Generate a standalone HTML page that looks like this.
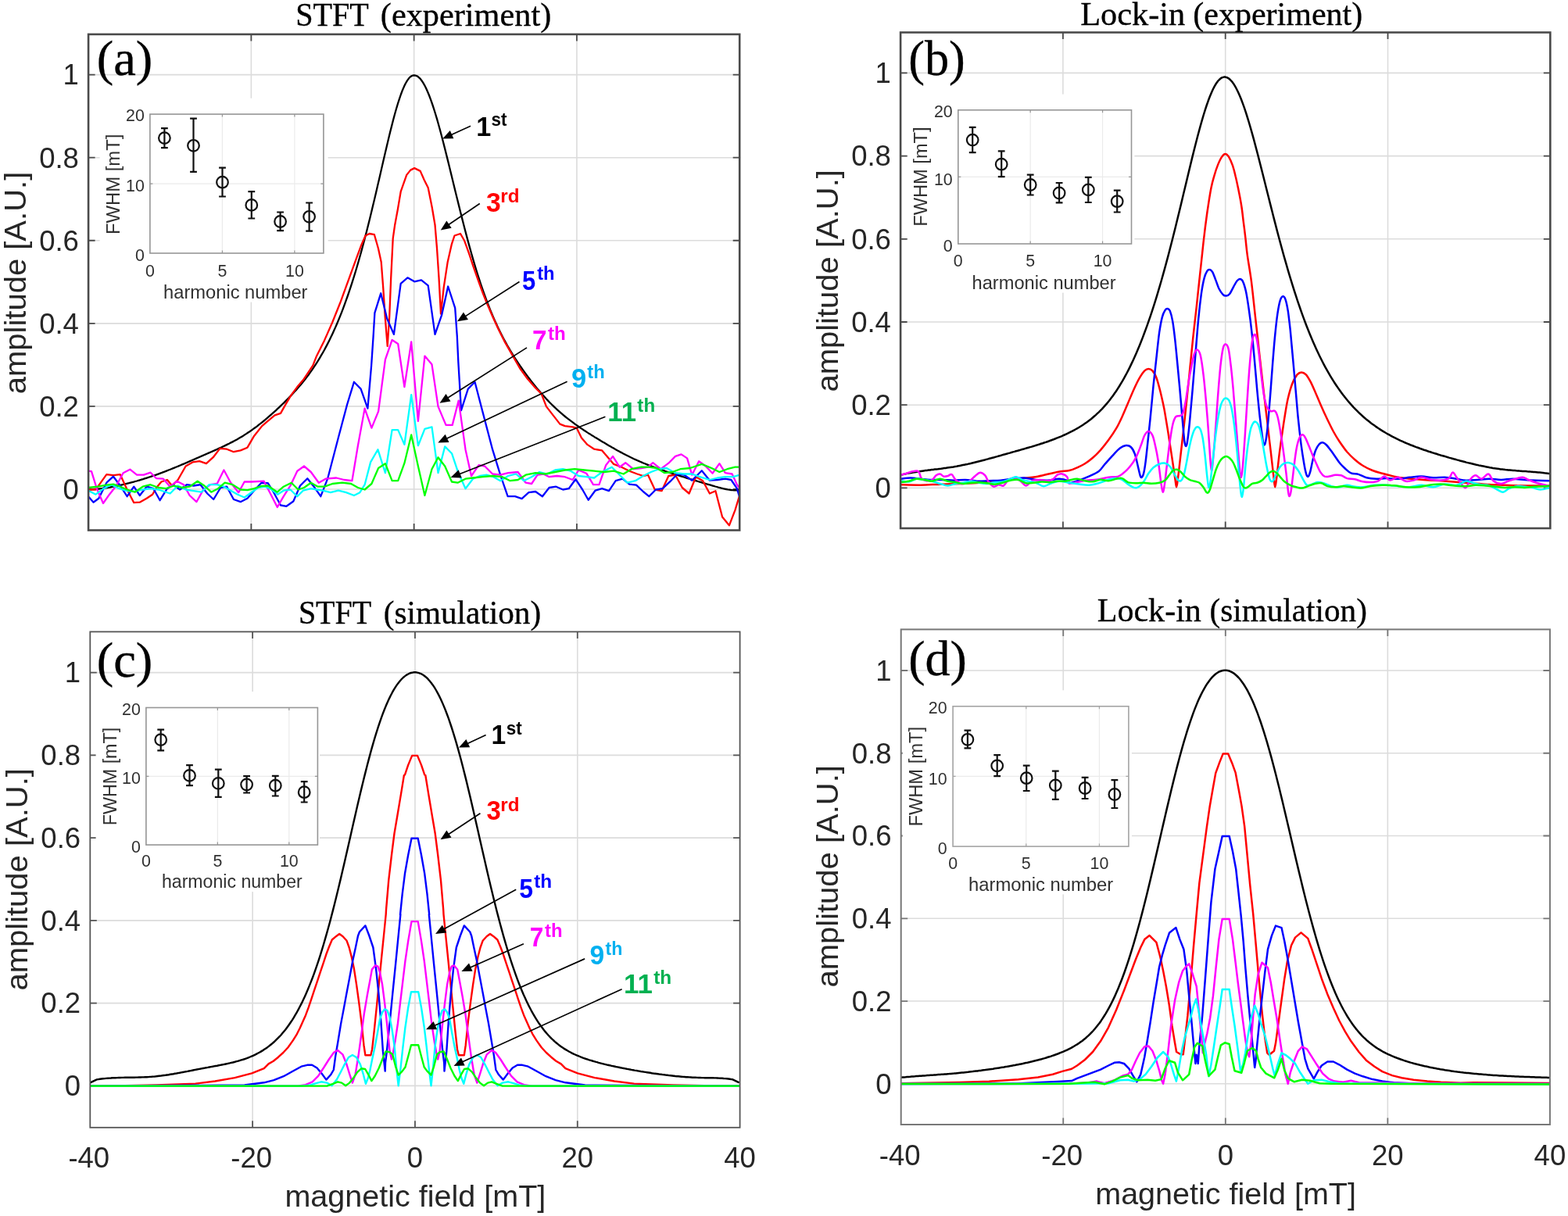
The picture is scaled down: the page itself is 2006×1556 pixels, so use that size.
<!DOCTYPE html>
<html lang="en"><head><meta charset="utf-8"><title>Harmonic amplitude vs magnetic field: STFT and Lock-in</title><style>html,body{margin:0;padding:0;background:#fff}body{width:2006px;height:1556px;overflow:hidden}svg{display:block}text{white-space:pre}.s,.sb{font-family:"Liberation Sans",Arial,Helvetica,sans-serif}.sb{font-weight:700}.t{font-family:"Liberation Serif","Times New Roman",Times,serif;stroke:#000;stroke-width:.35px}</style></head><body>
<svg width="2006" height="1556" viewBox="0 0 2006 1556" role="img" aria-label="Harmonic amplitude versus magnetic field"><defs><clipPath id="clip-a"><rect x="113.1" y="43.9" width="833.1" height="634.6"/></clipPath><clipPath id="clip-b"><rect x="1152.1" y="41.5" width="831.2" height="634.5"/></clipPath><clipPath id="clip-c"><rect x="115.3" y="808.4" width="831.3" height="634.4"/></clipPath><clipPath id="clip-d"><rect x="1152.7" y="805.4" width="830.2" height="633.6"/></clipPath></defs><g id="panel-a">
<path d="M321.38,43.9V678.5M529.65,43.9V678.5M737.93,43.9V678.5M113.1,626H946.2M113.1,519.92H946.2M113.1,413.84H946.2M113.1,307.76H946.2M113.1,201.68H946.2M113.1,95.6H946.2" stroke="#dcdcdc" stroke-width="1.6" fill="none"/>
<path d="M321.38,43.9v8.5M321.38,678.5v-8.5M529.65,43.9v8.5M529.65,678.5v-8.5M737.93,43.9v8.5M737.93,678.5v-8.5M113.1,626h8.5M946.2,626h-8.5M113.1,519.92h8.5M946.2,519.92h-8.5M113.1,413.84h8.5M946.2,413.84h-8.5M113.1,307.76h8.5M946.2,307.76h-8.5M113.1,201.68h8.5M946.2,201.68h-8.5M113.1,95.6h8.5M946.2,95.6h-8.5" stroke="#4a4a4a" stroke-width="1.8" fill="none"/>
<rect x="127.6" y="125.7" width="292" height="260.9" fill="#fff"/><path d="M284.4,146.1V324M376.9,146.1V324M191.9,235.05H413.9" stroke="#ebebeb" stroke-width="1.2" fill="none"/><path d="M284.4,324v-3.5M284.4,146.1v3.5M376.9,324v-3.5M376.9,146.1v3.5M191.9,235.05h3.5M413.9,235.05h-3.5" stroke="#969696" stroke-width="1.2" fill="none"/><rect x="191.9" y="146.1" width="222" height="177.9" fill="none" stroke="#969696" stroke-width="1.6"/><path d="M210.4,164.1V189.1M206,164.1h8.8M206,189.1h8.8M247.5,151.6V219.9M243.1,151.6h8.8M243.1,219.9h8.8M284.5,214.6V251.5M280.1,214.6h8.8M280.1,251.5h8.8M321.8,245.2V279.5M317.4,245.2h8.8M317.4,279.5h8.8M358.6,271.5V295.2M354.2,271.5h8.8M354.2,295.2h8.8M395.6,259.5V295.7M391.2,259.5h8.8M391.2,295.7h8.8" stroke="#101010" stroke-width="2.2" fill="none"/><circle cx="210.4" cy="176.6" r="7.3" fill="none" stroke="#101010" stroke-width="2.2"/><circle cx="247.5" cy="186.3" r="7.3" fill="none" stroke="#101010" stroke-width="2.2"/><circle cx="284.5" cy="233.2" r="7.3" fill="none" stroke="#101010" stroke-width="2.2"/><circle cx="321.8" cy="262.4" r="7.3" fill="none" stroke="#101010" stroke-width="2.2"/><circle cx="358.6" cy="283.5" r="7.3" fill="none" stroke="#101010" stroke-width="2.2"/><circle cx="395.6" cy="277.3" r="7.3" fill="none" stroke="#101010" stroke-width="2.2"/><text x="191.9" y="353.6" text-anchor="middle" class="s" font-size="21.4" fill="#303030">0</text><text x="284.4" y="353.6" text-anchor="middle" class="s" font-size="21.4" fill="#303030">5</text><text x="376.9" y="353.6" text-anchor="middle" class="s" font-size="21.4" fill="#303030">10</text><text x="184.9" y="334.1" text-anchor="end" class="s" font-size="21.4" fill="#303030">0</text><text x="184.9" y="245.15" text-anchor="end" class="s" font-size="21.4" fill="#303030">10</text><text x="184.9" y="155.2" text-anchor="end" class="s" font-size="21.4" fill="#303030">20</text><text x="209.04" y="381.9" class="s" font-size="24.2" fill="#303030" textLength="184.45" lengthAdjust="spacingAndGlyphs">harmonic number</text><text transform="translate(152.5,300.11) rotate(-90)" class="s" font-size="24.2" fill="#303030" textLength="128.53" lengthAdjust="spacingAndGlyphs">FWHM [mT]</text>
<g fill="none" stroke-width="2.3" stroke-linejoin="round" stroke-linecap="butt" clip-path="url(#clip-a)">
<path d="M113.0,626.5 L115.0,626.4 L117.0,626.3 L119.0,626.2 L121.0,626.0 L123.0,625.9 L125.0,625.7 L127.0,625.5 L129.0,625.2 L131.0,625.0 L133.0,624.7 L135.0,624.4 L137.0,624.1 L139.0,623.8 L141.0,623.5 L143.0,623.1 L145.0,622.7 L147.0,622.3 L149.0,621.9 L151.0,621.5 L153.0,621.1 L155.0,620.6 L157.0,620.1 L159.0,619.7 L161.0,619.2 L163.0,618.7 L165.0,618.2 L167.0,617.6 L169.0,617.1 L171.0,616.6 L173.0,616.0 L175.0,615.5 L177.0,614.9 L179.0,614.3 L181.0,613.7 L183.0,613.1 L185.0,612.4 L187.0,611.8 L189.0,611.2 L191.0,610.5 L193.0,609.8 L195.0,609.2 L197.0,608.5 L199.0,607.8 L201.0,607.1 L203.0,606.4 L205.0,605.6 L207.0,604.9 L209.0,604.1 L211.0,603.4 L213.0,602.6 L215.0,601.8 L217.0,601.0 L219.0,600.2 L221.0,599.4 L223.0,598.6 L225.0,597.8 L227.0,597.0 L229.0,596.1 L231.0,595.3 L233.0,594.4 L235.0,593.6 L237.0,592.7 L239.0,591.9 L241.0,591.0 L243.0,590.1 L245.0,589.2 L247.0,588.4 L249.0,587.5 L251.0,586.6 L253.0,585.7 L255.0,584.9 L257.0,584.0 L259.0,583.1 L261.0,582.2 L263.0,581.4 L265.0,580.5 L267.0,579.6 L269.0,578.7 L271.0,577.9 L273.0,577.0 L275.0,576.1 L277.0,575.2 L279.0,574.3 L281.0,573.4 L283.0,572.5 L285.0,571.5 L287.0,570.6 L289.0,569.6 L291.0,568.6 L293.0,567.7 L295.0,566.6 L297.0,565.6 L299.0,564.6 L301.0,563.5 L303.0,562.4 L305.0,561.2 L307.0,560.1 L309.0,558.9 L311.0,557.7 L313.0,556.4 L315.0,555.1 L317.0,553.8 L319.0,552.5 L321.0,551.1 L323.0,549.7 L325.0,548.2 L327.0,546.8 L329.0,545.3 L331.0,543.7 L333.0,542.2 L335.0,540.6 L337.0,539.0 L339.0,537.3 L341.0,535.6 L343.0,533.9 L345.0,532.2 L347.0,530.5 L349.0,528.7 L351.0,526.9 L353.0,525.1 L355.0,523.2 L357.0,521.3 L359.0,519.4 L361.0,517.5 L363.0,515.6 L365.0,513.6 L367.0,511.6 L369.0,509.6 L371.0,507.5 L373.0,505.4 L375.0,503.3 L377.0,501.1 L379.0,498.9 L381.0,496.6 L383.0,494.3 L385.0,491.9 L387.0,489.5 L389.0,487.0 L391.0,484.5 L393.0,481.9 L395.0,479.2 L397.0,476.4 L399.0,473.6 L401.0,470.7 L403.0,467.7 L405.0,464.6 L407.0,461.4 L409.0,458.1 L411.0,454.7 L413.0,451.2 L415.0,447.7 L417.0,443.9 L419.0,440.1 L421.0,436.2 L423.0,432.1 L425.0,427.9 L427.0,423.6 L429.0,419.1 L431.0,414.5 L433.0,409.8 L435.0,404.9 L437.0,399.8 L439.0,394.6 L441.0,389.2 L443.0,383.7 L445.0,378.0 L447.0,372.1 L449.0,366.1 L451.0,359.9 L453.0,353.5 L455.0,347.0 L457.0,340.2 L459.0,333.3 L461.0,326.2 L463.0,319.0 L465.0,311.5 L467.0,303.9 L469.0,296.2 L471.0,288.2 L473.0,280.2 L475.0,272.0 L477.0,263.6 L479.0,255.2 L481.0,246.7 L483.0,238.1 L485.0,229.4 L487.0,220.7 L489.0,212.0 L491.0,203.3 L493.0,194.7 L495.0,186.2 L497.0,177.8 L499.0,169.6 L501.0,161.6 L503.0,153.8 L505.0,146.3 L507.0,139.2 L509.0,132.5 L511.0,126.3 L513.0,120.5 L515.0,115.2 L517.0,110.6 L519.0,106.5 L521.0,103.1 L523.0,100.3 L525.0,98.3 L527.0,97.0 L529.0,96.4 L531.0,96.5 L533.0,97.1 L535.0,98.3 L537.0,100.1 L539.0,102.5 L541.0,105.4 L543.0,108.8 L545.0,112.7 L547.0,117.2 L549.0,122.0 L551.0,127.3 L553.0,133.0 L555.0,139.1 L557.0,145.5 L559.0,152.2 L561.0,159.3 L563.0,166.5 L565.0,174.0 L567.0,181.7 L569.0,189.6 L571.0,197.6 L573.0,205.6 L575.0,213.8 L577.0,222.0 L579.0,230.2 L581.0,238.5 L583.0,246.7 L585.0,254.8 L587.0,262.9 L589.0,271.0 L591.0,278.9 L593.0,286.8 L595.0,294.5 L597.0,302.1 L599.0,309.6 L601.0,316.9 L603.0,324.0 L605.0,331.0 L607.0,337.9 L609.0,344.5 L611.0,351.0 L613.0,357.2 L615.0,363.3 L617.0,369.2 L619.0,374.9 L621.0,380.5 L623.0,385.8 L625.0,391.0 L627.0,396.1 L629.0,400.9 L631.0,405.6 L633.0,410.2 L635.0,414.6 L637.0,418.9 L639.0,423.0 L641.0,427.0 L643.0,430.9 L645.0,434.7 L647.0,438.4 L649.0,442.0 L651.0,445.4 L653.0,448.8 L655.0,452.1 L657.0,455.4 L659.0,458.5 L661.0,461.6 L663.0,464.6 L665.0,467.6 L667.0,470.5 L669.0,473.4 L671.0,476.2 L673.0,478.9 L675.0,481.6 L677.0,484.3 L679.0,486.9 L681.0,489.5 L683.0,492.0 L685.0,494.5 L687.0,496.9 L689.0,499.3 L691.0,501.6 L693.0,503.9 L695.0,506.1 L697.0,508.3 L699.0,510.5 L701.0,512.6 L703.0,514.7 L705.0,516.7 L707.0,518.7 L709.0,520.6 L711.0,522.5 L713.0,524.4 L715.0,526.1 L717.0,527.9 L719.0,529.6 L721.0,531.3 L723.0,533.0 L725.0,534.6 L727.0,536.2 L729.0,537.7 L731.0,539.2 L733.0,540.7 L735.0,542.2 L737.0,543.6 L739.0,545.0 L741.0,546.4 L743.0,547.8 L745.0,549.1 L747.0,550.5 L749.0,551.8 L751.0,553.1 L753.0,554.4 L755.0,555.6 L757.0,556.9 L759.0,558.1 L761.0,559.4 L763.0,560.6 L765.0,561.8 L767.0,563.0 L769.0,564.3 L771.0,565.5 L773.0,566.6 L775.0,567.8 L777.0,569.0 L779.0,570.2 L781.0,571.3 L783.0,572.5 L785.0,573.6 L787.0,574.8 L789.0,575.9 L791.0,577.0 L793.0,578.1 L795.0,579.1 L797.0,580.2 L799.0,581.2 L801.0,582.3 L803.0,583.3 L805.0,584.3 L807.0,585.3 L809.0,586.2 L811.0,587.2 L813.0,588.1 L815.0,589.0 L817.0,589.9 L819.0,590.8 L821.0,591.6 L823.0,592.5 L825.0,593.3 L827.0,594.1 L829.0,594.9 L831.0,595.7 L833.0,596.4 L835.0,597.2 L837.0,597.9 L839.0,598.7 L841.0,599.4 L843.0,600.1 L845.0,600.8 L847.0,601.5 L849.0,602.2 L851.0,602.9 L853.0,603.5 L855.0,604.2 L857.0,604.8 L859.0,605.5 L861.0,606.1 L863.0,606.8 L865.0,607.4 L867.0,608.0 L869.0,608.7 L871.0,609.3 L873.0,609.9 L875.0,610.5 L877.0,611.2 L879.0,611.8 L881.0,612.4 L883.0,613.0 L885.0,613.6 L887.0,614.2 L889.0,614.8 L891.0,615.4 L893.0,616.0 L895.0,616.6 L897.0,617.2 L899.0,617.8 L901.0,618.4 L903.0,619.0 L905.0,619.6 L907.0,620.2 L909.0,620.7 L911.0,621.3 L913.0,621.9 L915.0,622.5 L917.0,623.0 L919.0,623.6 L921.0,624.1 L923.0,624.7 L925.0,625.2 L927.0,625.6 L929.0,626.0 L931.0,626.4 L933.0,626.7 L935.0,627.0 L937.0,627.2 L939.0,627.3 L941.0,627.4 L943.0,627.4 L945.0,627.3 L946.6,627.1" stroke="#000000"/>
<path d="M113.0,626.5 L122.5,626.5 L128.8,617.7 L136.3,607.2 L145.0,608.2 L153.8,607.2 L162.6,626.5 L171.3,643.2 L178.8,642.7 L187.6,637.7 L195.1,632.7 L200.1,624.0 L206.4,616.5 L213.9,614.0 L220.1,621.5 L227.6,614.0 L237.6,596.5 L246.4,591.4 L255.2,590.2 L263.9,593.2 L272.7,585.2 L281.4,573.9 L290.2,574.7 L298.9,578.2 L307.7,576.4 L316.5,572.7 L325.2,557.7 L335.2,545.1 L344.0,537.6 L351.5,531.4 L359.0,528.9 L365.3,517.6 L372.8,505.1 L380.3,495.1 L387.8,486.3 L400.3,467.6 L405.1,455.4 L415.1,435.4 L425.1,412.8 L435.1,387.8 L445.1,360.3 L455.1,332.8 L462.6,312.7 L467.6,301.5 L472.6,299.0 L478.9,300.2 L483.9,317.7 L487.7,335.2 L490.2,367.8 L492.7,405.3 L495.7,442.9 L498.2,405.3 L500.2,355.3 L502.7,305.2 L505.2,287.7 L508.9,267.7 L512.7,245.2 L520.2,223.9 L525.2,217.6 L530.2,215.1 L537.7,218.9 L542.7,230.2 L547.7,240.2 L552.7,265.2 L556.5,287.7 L559.0,317.7 L561.5,355.3 L564.0,401.6 L567.7,367.8 L572.7,335.2 L577.8,312.7 L581.5,301.5 L589.0,299.0 L594.0,307.7 L600.3,325.2 L605.3,340.3 L612.8,361.5 L617.8,375.3 L622.8,387.8 L630.3,405.3 L637.8,421.6 L645.3,436.6 L655.3,454.1 L665.1,471.3 L675.1,485.1 L685.1,496.4 L692.6,503.9 L698.9,520.1 L707.6,531.4 L716.4,542.6 L722.7,545.1 L732.7,546.4 L737.7,547.6 L743.9,560.2 L751.4,568.9 L760.2,574.7 L770.2,576.4 L777.7,585.2 L785.2,593.9 L795.2,597.7 L805.2,602.7 L815.2,606.5 L822.8,609.0 L829.0,607.7 L837.8,626.5 L846.5,628.2 L855.3,609.0 L864.0,607.7 L872.8,624.0 L881.6,631.5 L890.3,610.2 L899.1,615.2 L907.9,631.5 L915.4,628.2 L924.1,661.5 L932.9,672.3 L940.4,652.8 L946.6,632.7" stroke="#ff0000"/>
<path d="M113.0,635.2 L119.5,642.7 L126.3,637.7 L136.3,617.7 L145.0,609.7 L153.8,621.5 L162.6,635.2 L171.3,622.7 L178.8,634.0 L187.6,622.7 L196.3,625.2 L204.6,640.2 L213.9,625.2 L221.4,620.2 L230.1,626.5 L238.9,620.2 L247.7,621.5 L256.4,620.2 L265.2,631.5 L273.2,639.0 L282.2,624.0 L290.2,622.7 L298.9,639.0 L307.7,642.2 L316.5,637.7 L325.2,627.7 L334.0,618.2 L342.7,618.2 L350.2,630.2 L359.0,646.5 L366.5,647.8 L375.3,641.5 L384.0,621.5 L393.3,612.2 L401.6,622.7 L410.3,635.2 L419.1,612.7 L432.8,560.2 L444.1,517.6 L452.9,488.8 L461.6,497.6 L470.4,522.6 L475.1,467.9 L477.6,430.4 L479.4,400.3 L487.2,375.3 L495.2,407.8 L503.9,427.9 L512.7,362.8 L521.4,355.3 L530.2,360.3 L539.0,358.3 L547.7,365.3 L556.5,427.9 L565.2,402.8 L573.2,366.5 L582.2,394.1 L584.8,430.4 L586.3,462.6 L590.0,525.1 L598.8,497.6 L607.5,488.8 L615.0,517.6 L630.1,575.2 L640.1,607.7 L649.6,635.2 L658.9,635.2 L667.6,638.2 L676.4,630.2 L685.1,629.0 L693.9,635.2 L702.6,624.0 L711.4,622.7 L720.2,626.5 L727.7,625.2 L736.4,613.2 L745.2,626.5 L752.7,639.7 L761.5,627.7 L770.2,625.2 L779.0,628.2 L787.7,615.2 L796.5,612.7 L805.2,619.7 L814.0,620.7 L822.8,629.0 L830.3,635.2 L839.0,626.5 L847.8,625.2 L857.8,615.7 L866.6,606.5 L875.3,607.7 L885.3,614.7 L897.8,602.2 L907.9,614.7 L917.9,614.0 L927.9,612.7 L935.4,614.0 L942.9,625.2 L946.6,637.7" stroke="#0000ff"/>
<path d="M113.0,602.7 L117.0,603.2 L123.8,625.2 L132.0,644.0 L140.0,632.7 L148.8,621.5 L157.6,605.2 L166.3,600.7 L175.1,607.7 L183.8,607.7 L192.6,604.7 L200.1,612.2 L208.9,612.7 L217.6,622.7 L226.4,615.7 L235.1,620.2 L242.6,634.0 L251.4,642.2 L260.2,626.5 L268.9,620.2 L277.7,619.0 L286.4,601.5 L295.2,617.7 L305.2,630.2 L312.7,616.5 L321.5,616.5 L337.7,615.7 L346.5,632.7 L354.8,649.0 L362.8,635.2 L371.5,621.5 L380.3,602.7 L389.0,596.5 L397.8,604.0 L407.8,617.7 L416.6,612.7 L430.3,611.5 L440.3,614.0 L450.4,615.2 L457.9,570.2 L466.6,522.6 L475.4,547.6 L484.1,526.4 L492.9,460.1 L501.6,435.0 L509.2,440.0 L517.4,495.1 L526.2,437.5 L534.9,538.9 L543.4,455.6 L552.5,466.3 L560.5,520.1 L570.5,543.9 L578.7,543.9 L586.7,512.6 L595.5,575.2 L603.0,609.0 L612.5,595.2 L620.1,596.5 L630.1,606.5 L640.1,607.7 L650.1,605.2 L662.6,604.0 L672.6,617.7 L680.1,619.0 L687.6,607.7 L695.1,606.5 L702.6,610.2 L712.6,609.0 L722.7,610.2 L732.7,614.0 L740.2,601.5 L750.2,605.7 L759.0,620.2 L766.5,620.2 L775.2,595.2 L784.0,583.9 L792.7,597.7 L800.2,592.2 L810.2,600.2 L820.3,599.0 L829.0,597.7 L835.3,592.2 L845.3,600.2 L855.3,592.7 L864.0,583.9 L871.6,581.4 L879.1,586.4 L885.3,607.7 L894.1,590.2 L902.8,596.5 L911.6,605.7 L920.4,593.2 L927.9,605.2 L936.6,606.5 L942.9,620.2 L946.6,625.2" stroke="#ff00ff"/>
<path d="M113.0,627.7 L122.5,632.7 L132.5,625.2 L142.5,620.2 L152.6,625.2 L162.6,628.2 L172.6,629.0 L182.6,626.5 L192.6,625.2 L202.6,626.5 L217.6,631.5 L227.6,621.5 L237.6,626.5 L247.7,628.2 L257.7,629.7 L267.7,620.2 L277.7,620.2 L286.4,622.7 L295.2,627.7 L303.9,632.7 L312.7,636.5 L321.5,630.2 L330.2,624.0 L339.0,622.7 L347.8,626.5 L355.2,632.7 L362.8,627.7 L371.5,626.5 L380.3,635.2 L387.8,627.7 L397.8,625.2 L405.3,626.5 L412.8,627.7 L422.8,630.2 L432.8,627.7 L442.8,630.2 L452.9,634.0 L460.4,630.2 L466.6,620.2 L474.1,591.4 L483.4,575.2 L492.9,605.2 L501.6,550.1 L509.2,550.1 L517.4,568.9 L526.2,505.1 L534.9,570.2 L543.4,548.9 L552.5,546.4 L560.5,605.2 L569.2,571.4 L578.0,580.2 L585.5,602.7 L595.5,625.2 L605.0,612.7 L613.8,609.0 L622.6,607.7 L631.3,610.2 L640.1,615.2 L650.1,609.0 L660.1,606.5 L670.1,615.2 L680.1,610.2 L690.1,604.0 L700.1,606.5 L710.1,601.5 L720.2,600.2 L730.2,602.7 L740.2,609.0 L750.2,610.2 L760.2,611.5 L770.2,604.0 L782.7,597.7 L792.7,607.7 L802.7,617.7 L812.8,615.2 L822.8,609.0 L832.8,604.0 L842.8,600.2 L852.8,599.0 L864.0,605.2 L875.3,606.5 L885.3,606.5 L895.3,610.2 L907.9,614.0 L917.9,611.5 L927.9,610.2 L937.9,610.2 L946.6,607.7" stroke="#00ffff"/>
<path d="M113.0,624.0 L125.0,622.7 L136.3,620.7 L145.0,619.7 L153.8,622.7 L162.6,626.5 L172.6,629.7 L182.6,622.7 L192.6,620.2 L202.6,624.0 L212.6,625.2 L222.6,621.5 L232.6,624.0 L242.6,622.7 L252.7,615.7 L261.4,621.5 L270.2,629.7 L278.9,625.2 L287.7,617.7 L297.7,620.2 L307.7,626.5 L316.5,627.2 L325.2,625.2 L334.0,622.2 L342.7,621.5 L354.8,629.7 L362.8,622.7 L372.8,617.7 L381.5,626.5 L389.0,624.0 L397.8,617.7 L406.6,622.7 L415.3,622.7 L425.3,619.0 L437.8,617.7 L449.1,619.0 L457.9,624.0 L466.6,626.5 L475.4,619.0 L484.1,599.0 L492.9,593.2 L501.6,615.2 L509.2,615.2 L517.4,592.7 L526.2,556.4 L534.9,596.5 L543.4,634.0 L552.5,600.2 L560.5,585.2 L569.2,596.5 L578.0,616.5 L585.5,617.7 L595.5,612.7 L605.0,611.5 L617.6,610.2 L630.1,609.0 L642.6,610.2 L652.6,615.2 L662.6,614.0 L672.6,607.7 L685.1,605.2 L697.6,606.5 L710.1,604.0 L722.7,601.5 L735.2,600.2 L747.7,601.5 L760.2,602.7 L772.7,604.0 L785.2,602.7 L797.7,606.5 L807.8,600.2 L820.3,597.7 L830.3,597.7 L840.3,599.0 L850.3,605.2 L860.3,604.0 L870.3,600.2 L882.8,599.0 L897.8,593.9 L910.4,599.0 L920.4,604.0 L930.4,600.2 L940.4,597.7 L946.6,597.7" stroke="#00ff00"/>
</g>
<rect x="113.1" y="43.9" width="833.1" height="634.6" fill="none" stroke="#4a4a4a" stroke-width="2.6"/>
<text x="378.19" y="33.3" class="t" font-size="41.6" fill="#000" textLength="93.67" lengthAdjust="spacingAndGlyphs">STFT</text><text x="486.85" y="33.3" class="t" font-size="41.6" fill="#000" textLength="218.42" lengthAdjust="spacingAndGlyphs">(experiment)</text><text x="123.7" y="95.7" class="t" font-size="62.6" fill="#000" textLength="71.6" lengthAdjust="spacingAndGlyphs">(a)</text><text x="100.9" y="638.85" text-anchor="end" class="s" font-size="36.5" fill="#262626">0</text><text x="100.9" y="532.77" text-anchor="end" class="s" font-size="36.5" fill="#262626">0.2</text><text x="100.9" y="426.69" text-anchor="end" class="s" font-size="36.5" fill="#262626">0.4</text><text x="100.9" y="320.61" text-anchor="end" class="s" font-size="36.5" fill="#262626">0.6</text><text x="100.9" y="214.53" text-anchor="end" class="s" font-size="36.5" fill="#262626">0.8</text><text x="100.9" y="108.45" text-anchor="end" class="s" font-size="36.5" fill="#262626">1</text><text transform="translate(33.3,504.3) rotate(-90)" class="s" font-size="39.6" fill="#262626" textLength="284.57" lengthAdjust="spacingAndGlyphs">amplitude [A.U.]</text><line x1="602" y1="161.25" x2="576.26" y2="172.95" stroke="#000" stroke-width="1.7"/><polygon points="566.25,177.5 575.77,167.02 580.4,177.22" fill="#000"/><text x="609.24" y="173.6" class="sb" font-size="35.6" fill="#000" textLength="19.05" lengthAdjust="spacingAndGlyphs">1</text><text x="628.62" y="161.3" class="sb" font-size="23.9" fill="#000" textLength="19.9" lengthAdjust="spacingAndGlyphs">st</text><line x1="613.75" y1="260.5" x2="572.85" y2="288.31" stroke="#000" stroke-width="1.7"/><polygon points="563.75,294.5 571.35,282.56 577.65,291.82" fill="#000"/><text x="622.06" y="271.2" class="sb" font-size="35.6" fill="#ff0000" textLength="18.76" lengthAdjust="spacingAndGlyphs">3</text><text x="640.33" y="259" class="sb" font-size="23.9" fill="#ff0000" textLength="24.14" lengthAdjust="spacingAndGlyphs">rd</text><line x1="664.5" y1="360.5" x2="594.27" y2="405.38" stroke="#000" stroke-width="1.7"/><polygon points="585,411.3 592.94,399.58 598.97,409.02" fill="#000"/><text x="668.07" y="370.6" class="sb" font-size="35.6" fill="#0000ff" textLength="17.24" lengthAdjust="spacingAndGlyphs">5</text><text x="687.16" y="358.4" class="sb" font-size="23.9" fill="#0000ff" textLength="22.44" lengthAdjust="spacingAndGlyphs">th</text><line x1="674" y1="444.9" x2="571.79" y2="509.8" stroke="#000" stroke-width="1.7"/><polygon points="562.5,515.7 570.47,504 576.48,513.46" fill="#000"/><text x="681.07" y="446.6" class="sb" font-size="35.6" fill="#ff00ff" textLength="18.5" lengthAdjust="spacingAndGlyphs">7</text><text x="700.96" y="434.9" class="sb" font-size="23.9" fill="#ff00ff" textLength="22.76" lengthAdjust="spacingAndGlyphs">th</text><line x1="725.6" y1="488.2" x2="570.24" y2="561.79" stroke="#000" stroke-width="1.7"/><polygon points="560.3,566.5 569.65,555.87 574.45,566" fill="#000"/><text x="731.09" y="495.7" class="sb" font-size="35.6" fill="#00b0f0" textLength="19.15" lengthAdjust="spacingAndGlyphs">9</text><text x="751.26" y="483.6" class="sb" font-size="23.9" fill="#00b0f0" textLength="22.44" lengthAdjust="spacingAndGlyphs">th</text><line x1="774.4" y1="533.2" x2="586.83" y2="607.07" stroke="#000" stroke-width="1.7"/><polygon points="576.6,611.1 586.64,601.13 590.75,611.55" fill="#000"/><text x="777.32" y="539" class="sb" font-size="35.6" fill="#00b050" textLength="36.73" lengthAdjust="spacingAndGlyphs">11</text><text x="815.36" y="527.3" class="sb" font-size="23.9" fill="#00b050" textLength="22.76" lengthAdjust="spacingAndGlyphs">th</text>
</g>
<g id="panel-b">
<path d="M1359.9,41.5V676M1567.7,41.5V676M1775.5,41.5V676M1152.1,624.4H1983.3M1152.1,518.2H1983.3M1152.1,412H1983.3M1152.1,305.8H1983.3M1152.1,199.6H1983.3M1152.1,93.4H1983.3" stroke="#dcdcdc" stroke-width="1.6" fill="none"/>
<path d="M1359.9,41.5v8.5M1359.9,676v-8.5M1567.7,41.5v8.5M1567.7,676v-8.5M1775.5,41.5v8.5M1775.5,676v-8.5M1152.1,624.4h8.5M1983.3,624.4h-8.5M1152.1,518.2h8.5M1983.3,518.2h-8.5M1152.1,412h8.5M1983.3,412h-8.5M1152.1,305.8h8.5M1983.3,305.8h-8.5M1152.1,199.6h8.5M1983.3,199.6h-8.5M1152.1,93.4h8.5M1983.3,93.4h-8.5" stroke="#4a4a4a" stroke-width="1.8" fill="none"/>
<rect x="1161.5" y="120.6" width="289.9" height="254" fill="#fff"/><path d="M1318.17,140.8V312M1410.55,140.8V312M1225.8,226.4H1447.5" stroke="#ebebeb" stroke-width="1.2" fill="none"/><path d="M1318.17,312v-3.5M1318.17,140.8v3.5M1410.55,312v-3.5M1410.55,140.8v3.5M1225.8,226.4h3.5M1447.5,226.4h-3.5" stroke="#969696" stroke-width="1.2" fill="none"/><rect x="1225.8" y="140.8" width="221.7" height="171.2" fill="none" stroke="#969696" stroke-width="1.6"/><path d="M1244.2,162.9V195.2M1239.8,162.9h8.8M1239.8,195.2h8.8M1281.2,193.3V226.2M1276.8,193.3h8.8M1276.8,226.2h8.8M1318.2,223.6V249.5M1313.8,223.6h8.8M1313.8,249.5h8.8M1355.1,234V259.4M1350.7,234h8.8M1350.7,259.4h8.8M1392.3,226.9V259M1387.9,226.9h8.8M1387.9,259h8.8M1429.2,243.7V271.5M1424.8,243.7h8.8M1424.8,271.5h8.8" stroke="#101010" stroke-width="2.2" fill="none"/><circle cx="1244.2" cy="179.1" r="7.3" fill="none" stroke="#101010" stroke-width="2.2"/><circle cx="1281.2" cy="210.2" r="7.3" fill="none" stroke="#101010" stroke-width="2.2"/><circle cx="1318.2" cy="236.5" r="7.3" fill="none" stroke="#101010" stroke-width="2.2"/><circle cx="1355.1" cy="247" r="7.3" fill="none" stroke="#101010" stroke-width="2.2"/><circle cx="1392.3" cy="242.9" r="7.3" fill="none" stroke="#101010" stroke-width="2.2"/><circle cx="1429.2" cy="257.7" r="7.3" fill="none" stroke="#101010" stroke-width="2.2"/><text x="1225.8" y="340.6" text-anchor="middle" class="s" font-size="21.4" fill="#303030">0</text><text x="1318.17" y="340.6" text-anchor="middle" class="s" font-size="21.4" fill="#303030">5</text><text x="1410.55" y="340.6" text-anchor="middle" class="s" font-size="21.4" fill="#303030">10</text><text x="1218.7" y="322.1" text-anchor="end" class="s" font-size="21.4" fill="#303030">0</text><text x="1218.7" y="236.5" text-anchor="end" class="s" font-size="21.4" fill="#303030">10</text><text x="1218.7" y="149.9" text-anchor="end" class="s" font-size="21.4" fill="#303030">20</text><text x="1243.54" y="369.9" class="s" font-size="24.2" fill="#303030" textLength="184.05" lengthAdjust="spacingAndGlyphs">harmonic number</text><text transform="translate(1186.3,289.69) rotate(-90)" class="s" font-size="24.2" fill="#303030" textLength="127.3" lengthAdjust="spacingAndGlyphs">FWHM [mT]</text>
<g fill="none" stroke-width="2.5" stroke-linejoin="round" stroke-linecap="butt" clip-path="url(#clip-b)">
<path d="M1151.8,607.8 L1153.8,607.3 L1155.8,606.9 L1157.8,606.4 L1159.8,606.0 L1161.8,605.6 L1163.8,605.2 L1165.8,604.9 L1167.8,604.5 L1169.8,604.2 L1171.8,603.9 L1173.8,603.5 L1175.8,603.3 L1177.8,603.0 L1179.8,602.7 L1181.8,602.4 L1183.8,602.1 L1185.8,601.9 L1187.8,601.6 L1189.8,601.4 L1191.8,601.1 L1193.8,600.9 L1195.8,600.6 L1197.8,600.4 L1199.8,600.2 L1201.8,599.9 L1203.8,599.7 L1205.8,599.4 L1207.8,599.1 L1209.8,598.9 L1211.8,598.6 L1213.8,598.3 L1215.8,598.0 L1217.8,597.7 L1219.8,597.4 L1221.8,597.0 L1223.8,596.7 L1225.8,596.3 L1227.8,595.9 L1229.8,595.5 L1231.8,595.1 L1233.8,594.7 L1235.8,594.3 L1237.8,593.9 L1239.8,593.4 L1241.8,593.0 L1243.8,592.5 L1245.8,592.0 L1247.8,591.5 L1249.8,591.0 L1251.8,590.5 L1253.8,590.0 L1255.8,589.5 L1257.8,589.0 L1259.8,588.5 L1261.8,587.9 L1263.8,587.4 L1265.8,586.8 L1267.8,586.3 L1269.8,585.7 L1271.8,585.2 L1273.8,584.6 L1275.8,584.1 L1277.8,583.5 L1279.8,583.0 L1281.8,582.4 L1283.8,581.8 L1285.8,581.3 L1287.8,580.7 L1289.8,580.1 L1291.8,579.6 L1293.8,579.0 L1295.8,578.4 L1297.8,577.9 L1299.8,577.3 L1301.8,576.8 L1303.8,576.2 L1305.8,575.6 L1307.8,575.0 L1309.8,574.5 L1311.8,573.9 L1313.8,573.3 L1315.8,572.7 L1317.8,572.1 L1319.8,571.6 L1321.8,571.0 L1323.8,570.4 L1325.8,569.7 L1327.8,569.1 L1329.8,568.5 L1331.8,567.8 L1333.8,567.2 L1335.8,566.5 L1337.8,565.9 L1339.8,565.2 L1341.8,564.5 L1343.8,563.7 L1345.8,563.0 L1347.8,562.3 L1349.8,561.5 L1351.8,560.7 L1353.8,559.9 L1355.8,559.1 L1357.8,558.3 L1359.8,557.4 L1361.8,556.5 L1363.8,555.6 L1365.8,554.7 L1367.8,553.7 L1369.8,552.7 L1371.8,551.7 L1373.8,550.6 L1375.8,549.5 L1377.8,548.4 L1379.8,547.2 L1381.8,546.0 L1383.8,544.8 L1385.8,543.5 L1387.8,542.1 L1389.8,540.7 L1391.8,539.2 L1393.8,537.7 L1395.8,536.2 L1397.8,534.5 L1399.8,532.8 L1401.8,531.1 L1403.8,529.2 L1405.8,527.3 L1407.8,525.3 L1409.8,523.3 L1411.8,521.1 L1413.8,518.9 L1415.8,516.6 L1417.8,514.2 L1419.8,511.7 L1421.8,509.1 L1423.8,506.4 L1425.8,503.6 L1427.8,500.7 L1429.8,497.6 L1431.8,494.5 L1433.8,491.2 L1435.8,487.9 L1437.8,484.4 L1439.8,480.7 L1441.8,477.0 L1443.8,473.1 L1445.8,469.1 L1447.8,464.9 L1449.8,460.7 L1451.8,456.3 L1453.8,451.7 L1455.8,447.0 L1457.8,442.2 L1459.8,437.2 L1461.8,432.1 L1463.8,426.8 L1465.8,421.4 L1467.8,415.9 L1469.8,410.2 L1471.8,404.3 L1473.8,398.3 L1475.8,392.1 L1477.8,385.8 L1479.8,379.3 L1481.8,372.7 L1483.8,365.9 L1485.8,359.0 L1487.8,351.9 L1489.8,344.7 L1491.8,337.4 L1493.8,329.9 L1495.8,322.3 L1497.8,314.5 L1499.8,306.7 L1501.8,298.7 L1503.8,290.7 L1505.8,282.5 L1507.8,274.3 L1509.8,266.1 L1511.8,257.7 L1513.8,249.3 L1515.8,241.0 L1517.8,232.6 L1519.8,224.2 L1521.8,215.9 L1523.8,207.6 L1525.8,199.4 L1527.8,191.4 L1529.8,183.5 L1531.8,175.7 L1533.8,168.2 L1535.8,160.9 L1537.8,153.8 L1539.8,147.0 L1541.8,140.6 L1543.8,134.5 L1545.8,128.8 L1547.8,123.5 L1549.8,118.7 L1551.8,114.3 L1553.8,110.4 L1555.8,107.0 L1557.8,104.2 L1559.8,102.0 L1561.8,100.2 L1563.8,99.1 L1565.8,98.6 L1567.8,98.6 L1569.8,99.2 L1571.8,100.3 L1573.8,102.0 L1575.8,104.1 L1577.8,106.7 L1579.8,109.9 L1581.8,113.5 L1583.8,117.5 L1585.8,122.0 L1587.8,126.8 L1589.8,132.1 L1591.8,137.7 L1593.8,143.7 L1595.8,150.0 L1597.8,156.5 L1599.8,163.4 L1601.8,170.4 L1603.8,177.7 L1605.8,185.1 L1607.8,192.7 L1609.8,200.4 L1611.8,208.2 L1613.8,216.1 L1615.8,224.0 L1617.8,232.0 L1619.8,240.0 L1621.8,248.0 L1623.8,255.9 L1625.8,263.9 L1627.8,271.8 L1629.8,279.6 L1631.8,287.4 L1633.8,295.1 L1635.8,302.7 L1637.8,310.1 L1639.8,317.5 L1641.8,324.8 L1643.8,331.9 L1645.8,338.9 L1647.8,345.8 L1649.8,352.6 L1651.8,359.2 L1653.8,365.7 L1655.8,372.0 L1657.8,378.2 L1659.8,384.3 L1661.8,390.2 L1663.8,396.0 L1665.8,401.6 L1667.8,407.1 L1669.8,412.5 L1671.8,417.7 L1673.8,422.8 L1675.8,427.7 L1677.8,432.5 L1679.8,437.2 L1681.8,441.8 L1683.8,446.2 L1685.8,450.5 L1687.8,454.7 L1689.8,458.8 L1691.8,462.7 L1693.8,466.6 L1695.8,470.3 L1697.8,473.9 L1699.8,477.4 L1701.8,480.9 L1703.8,484.2 L1705.8,487.4 L1707.8,490.5 L1709.8,493.5 L1711.8,496.4 L1713.8,499.3 L1715.8,502.1 L1717.8,504.7 L1719.8,507.3 L1721.8,509.8 L1723.8,512.3 L1725.8,514.6 L1727.8,516.9 L1729.8,519.1 L1731.8,521.3 L1733.8,523.4 L1735.8,525.4 L1737.8,527.4 L1739.8,529.3 L1741.8,531.1 L1743.8,533.0 L1745.8,534.7 L1747.8,536.4 L1749.8,538.0 L1751.8,539.6 L1753.8,541.2 L1755.8,542.7 L1757.8,544.1 L1759.8,545.6 L1761.8,546.9 L1763.8,548.3 L1765.8,549.6 L1767.8,550.9 L1769.8,552.1 L1771.8,553.3 L1773.8,554.5 L1775.8,555.6 L1777.8,556.7 L1779.8,557.8 L1781.8,558.9 L1783.8,559.9 L1785.8,560.9 L1787.8,561.9 L1789.8,562.8 L1791.8,563.8 L1793.8,564.7 L1795.8,565.6 L1797.8,566.5 L1799.8,567.3 L1801.8,568.1 L1803.8,569.0 L1805.8,569.8 L1807.8,570.5 L1809.8,571.3 L1811.8,572.1 L1813.8,572.8 L1815.8,573.5 L1817.8,574.3 L1819.8,575.0 L1821.8,575.7 L1823.8,576.3 L1825.8,577.0 L1827.8,577.7 L1829.8,578.3 L1831.8,579.0 L1833.8,579.6 L1835.8,580.2 L1837.8,580.8 L1839.8,581.5 L1841.8,582.1 L1843.8,582.7 L1845.8,583.2 L1847.8,583.8 L1849.8,584.4 L1851.8,585.0 L1853.8,585.6 L1855.8,586.1 L1857.8,586.7 L1859.8,587.3 L1861.8,587.8 L1863.8,588.4 L1865.8,588.9 L1867.8,589.5 L1869.8,590.0 L1871.8,590.5 L1873.8,591.0 L1875.8,591.6 L1877.8,592.1 L1879.8,592.6 L1881.8,593.0 L1883.8,593.5 L1885.8,594.0 L1887.8,594.5 L1889.8,594.9 L1891.8,595.4 L1893.8,595.8 L1895.8,596.2 L1897.8,596.6 L1899.8,597.0 L1901.8,597.4 L1903.8,597.8 L1905.8,598.2 L1907.8,598.5 L1909.8,598.9 L1911.8,599.2 L1913.8,599.5 L1915.8,599.8 L1917.8,600.1 L1919.8,600.4 L1921.8,600.6 L1923.8,600.8 L1925.8,601.1 L1927.8,601.3 L1929.8,601.5 L1931.8,601.6 L1933.8,601.8 L1935.8,602.0 L1937.8,602.1 L1939.8,602.3 L1941.8,602.4 L1943.8,602.6 L1945.8,602.7 L1947.8,602.9 L1949.8,603.0 L1951.8,603.1 L1953.8,603.3 L1955.8,603.4 L1957.8,603.6 L1959.8,603.7 L1961.8,603.9 L1963.8,604.0 L1965.8,604.2 L1967.8,604.4 L1969.8,604.6 L1971.8,604.8 L1973.8,605.0 L1975.8,605.3 L1977.8,605.5 L1979.8,605.8 L1981.8,606.1 L1983.8,606.4 L1984.2,606.5" stroke="#000000"/>
<path d="M1151.8,620.2C1156.1,620.3 1169.1,620.8 1177.5,620.7C1186.0,620.6 1194.2,620.0 1202.6,619.7C1210.9,619.4 1219.2,619.3 1227.6,619.0C1235.9,618.6 1244.3,618.3 1252.6,617.7C1261.0,617.2 1269.3,616.5 1277.6,615.7C1286.0,614.9 1294.3,613.7 1302.7,612.7C1311.0,611.7 1319.3,611.2 1327.7,609.7C1336.0,608.2 1346.0,605.2 1352.7,604.0C1359.4,602.7 1363.8,603.0 1368.0,602.0C1372.2,601.1 1374.7,599.8 1378.0,598.3C1381.3,596.8 1384.7,595.4 1388.0,593.3C1391.4,591.2 1394.7,588.7 1398.0,585.8C1401.4,582.9 1404.7,579.5 1408.0,575.8C1411.4,572.0 1414.7,567.8 1418.0,563.3C1421.4,558.7 1425.1,553.3 1428.1,548.2C1431.0,543.2 1433.1,538.7 1435.6,533.2C1438.1,527.8 1440.6,521.6 1443.1,515.7C1445.6,509.9 1448.1,503.6 1450.6,498.2C1453.1,492.8 1455.8,487.1 1458.1,483.2C1460.4,479.2 1462.5,476.3 1464.3,474.4C1466.2,472.6 1467.7,471.9 1469.3,471.9C1471.0,471.9 1472.7,472.6 1474.4,474.4C1476.0,476.3 1477.7,478.8 1479.4,483.2C1481.0,487.6 1482.7,494.0 1484.4,500.7C1486.0,507.4 1487.7,514.5 1489.4,523.2C1491.0,532.0 1492.7,542.8 1494.4,553.2C1496.0,563.7 1497.9,576.2 1499.4,585.8C1500.8,595.4 1502.2,604.6 1503.1,610.8C1504.1,617.1 1504.5,623.3 1505.1,623.3C1505.8,623.3 1506.2,617.9 1507.1,610.8C1508.1,603.7 1509.2,593.3 1510.6,580.8C1512.1,568.3 1514.0,551.2 1515.7,535.7C1517.3,520.3 1519.0,504.5 1520.7,488.2C1522.3,471.9 1524.0,454.0 1525.7,438.1C1527.3,422.3 1528.6,412.2 1530.7,393.1C1532.7,373.9 1536.5,338.6 1538.2,323.2C1539.8,307.8 1539.8,307.8 1540.7,300.7C1541.5,293.6 1542.3,287.0 1543.2,280.7C1544.0,274.4 1544.6,269.9 1545.7,263.2C1546.7,256.5 1548.2,246.9 1549.4,240.7C1550.7,234.4 1551.7,230.7 1553.2,225.7C1554.6,220.6 1556.5,214.8 1558.2,210.6C1559.9,206.5 1561.6,202.9 1563.2,200.6C1564.7,198.3 1566.0,196.9 1567.5,196.9C1568.9,196.9 1570.4,198.1 1572.0,200.6C1573.5,203.1 1575.5,207.7 1577.0,211.9C1578.4,216.1 1579.5,220.4 1580.7,225.7C1582.0,230.9 1583.2,236.9 1584.5,243.2C1585.7,249.4 1587.2,256.5 1588.2,263.2C1589.3,269.9 1589.9,276.5 1590.7,283.2C1591.6,289.9 1592.4,296.1 1593.2,303.2C1594.1,310.3 1594.4,316.2 1595.7,325.8C1597.0,335.3 1599.3,347.7 1601.0,360.6C1602.6,373.5 1604.1,388.5 1605.7,403.1C1607.4,417.7 1609.1,433.1 1610.7,448.1C1612.4,463.2 1614.1,478.6 1615.8,493.2C1617.4,507.8 1619.1,521.6 1620.8,535.7C1622.4,549.9 1624.3,565.8 1625.8,578.3C1627.2,590.8 1628.6,603.3 1629.5,610.8C1630.4,618.3 1630.6,623.3 1631.3,623.3C1631.9,623.3 1632.3,618.3 1633.3,610.8C1634.2,603.3 1635.6,589.5 1637.0,578.3C1638.5,567.0 1640.4,554.1 1642.0,543.2C1643.7,532.4 1645.2,522.0 1647.0,513.2C1648.9,504.5 1651.2,496.3 1653.3,490.7C1655.4,485.1 1657.6,481.8 1659.5,479.4C1661.5,477.1 1663.2,476.4 1665.0,476.4C1666.9,476.4 1668.8,477.3 1670.8,479.4C1672.8,481.6 1675.0,485.5 1677.1,489.4C1679.1,493.4 1681.0,498.0 1683.3,503.2C1685.6,508.4 1688.3,515.1 1690.8,520.7C1693.3,526.4 1695.8,531.8 1698.3,537.0C1700.8,542.2 1703.3,547.4 1705.8,552.0C1708.3,556.6 1710.4,560.1 1713.3,564.5C1716.3,568.9 1720.0,574.3 1723.3,578.3C1726.7,582.2 1730.0,585.4 1733.4,588.3C1736.7,591.2 1739.6,593.5 1743.4,595.8C1747.1,598.1 1751.7,600.4 1755.9,602.0C1760.1,603.7 1763.8,604.6 1768.4,605.8C1773.0,607.1 1778.4,608.5 1783.4,609.6C1788.4,610.6 1792.6,611.4 1798.4,612.1C1804.3,612.8 1810.9,613.3 1818.5,613.8C1826.0,614.4 1834.0,614.7 1843.5,615.3C1853.0,616.0 1865.9,617.0 1875.4,617.7C1884.9,618.5 1892.1,619.2 1900.4,619.7C1908.7,620.2 1917.1,620.4 1925.4,620.7C1933.8,621.0 1940.6,621.3 1950.5,621.5C1960.3,621.6 1978.6,621.5 1984.2,621.5" stroke="#ff0000"/>
<path d="M1151.8,612.7C1154.0,612.5 1160.7,611.5 1165.0,611.5C1169.3,611.5 1173.4,612.3 1177.5,612.7C1181.7,613.1 1185.5,613.8 1190.0,614.0C1194.6,614.2 1200.1,613.8 1205.1,614.0C1210.1,614.1 1215.1,614.7 1220.1,614.7C1225.1,614.7 1230.1,613.8 1235.1,614.0C1240.1,614.1 1245.1,615.5 1250.1,615.7C1255.1,615.9 1260.1,615.4 1265.1,615.2C1270.1,615.0 1275.1,615.1 1280.1,614.7C1285.1,614.3 1290.1,613.3 1295.2,612.7C1300.2,612.2 1305.2,611.3 1310.2,611.5C1315.2,611.7 1320.2,613.4 1325.2,614.0C1330.2,614.5 1335.2,614.9 1340.2,614.7C1345.2,614.5 1350.8,612.6 1355.2,612.7C1359.6,612.8 1364.3,614.3 1366.5,615.2C1368.6,616.1 1365.7,618.4 1368.0,618.3C1370.3,618.2 1376.3,616.0 1380.5,614.6C1384.7,613.1 1388.8,611.4 1393.0,609.6C1397.2,607.7 1402.2,605.8 1405.5,603.3C1408.9,600.8 1410.1,597.9 1413.0,594.5C1416.0,591.2 1419.7,586.8 1423.0,583.3C1426.4,579.7 1430.1,575.5 1433.1,573.3C1436.0,571.1 1438.3,570.2 1440.6,570.0C1442.9,569.8 1445.0,570.2 1446.8,572.0C1448.7,573.8 1450.4,576.8 1451.8,580.8C1453.3,584.7 1454.5,591.2 1455.6,595.8C1456.7,600.4 1457.8,605.8 1458.6,608.3C1459.4,610.8 1459.8,611.2 1460.6,610.8C1461.3,610.4 1462.3,609.1 1463.1,605.8C1463.9,602.5 1464.8,597.0 1465.6,590.8C1466.4,584.5 1467.1,577.9 1468.1,568.3C1469.1,558.7 1470.6,545.7 1471.8,533.2C1473.1,520.7 1474.4,505.7 1475.6,493.2C1476.9,480.7 1478.1,469.4 1479.4,458.2C1480.6,446.9 1481.9,434.4 1483.1,425.6C1484.4,416.9 1485.6,410.4 1486.9,405.6C1488.1,400.8 1489.5,398.6 1490.6,396.9C1491.8,395.1 1492.8,394.9 1493.9,395.1C1494.9,395.3 1495.8,395.5 1496.9,398.1C1497.9,400.7 1499.1,404.8 1500.1,410.6C1501.2,416.4 1502.1,424.4 1503.1,433.1C1504.1,441.9 1505.1,452.3 1506.1,463.2C1507.2,474.0 1508.3,486.1 1509.4,498.2C1510.5,510.3 1511.7,524.9 1512.6,535.7C1513.6,546.6 1514.4,557.4 1515.2,563.3C1515.9,569.1 1516.3,570.4 1516.9,570.8C1517.5,571.2 1518.1,570.8 1518.9,565.8C1519.7,560.8 1520.8,552.0 1521.9,540.7C1523.0,529.5 1524.4,512.8 1525.7,498.2C1526.9,483.6 1528.2,468.2 1529.4,453.1C1530.7,438.1 1531.9,421.0 1533.2,408.1C1534.4,395.2 1535.7,384.3 1536.9,375.6C1538.2,366.8 1539.4,360.4 1540.7,355.6C1541.9,350.8 1543.3,348.6 1544.4,346.8C1545.6,345.0 1546.6,344.8 1547.7,345.1C1548.8,345.3 1549.9,345.9 1551.2,348.1C1552.4,350.2 1553.8,354.5 1555.2,358.1C1556.6,361.6 1557.9,366.2 1559.4,369.3C1561.0,372.4 1562.9,375.3 1564.5,376.8C1566.0,378.4 1567.5,378.7 1569.0,378.6C1570.4,378.5 1571.7,378.0 1573.2,376.1C1574.7,374.1 1576.6,369.6 1578.2,366.8C1579.8,364.0 1581.3,360.9 1582.7,359.3C1584.1,357.7 1585.2,356.9 1586.5,357.1C1587.7,357.3 1589.0,357.9 1590.2,360.6C1591.5,363.2 1592.7,367.2 1594.0,373.1C1595.2,378.9 1596.5,387.3 1597.7,395.6C1598.9,403.9 1600.1,412.7 1601.2,423.1C1602.4,433.5 1603.6,445.6 1604.7,458.2C1605.9,470.7 1607.0,485.3 1608.2,498.2C1609.4,511.1 1610.8,525.3 1612.0,535.7C1613.2,546.2 1614.4,555.1 1615.2,560.8C1616.1,566.4 1616.5,569.1 1617.2,569.5C1618.0,569.9 1618.7,567.6 1619.5,563.3C1620.3,558.9 1621.0,553.2 1622.0,543.2C1623.0,533.2 1624.2,516.5 1625.3,503.2C1626.3,489.9 1627.3,475.7 1628.3,463.2C1629.3,450.6 1630.2,438.6 1631.3,428.1C1632.3,417.7 1633.4,407.9 1634.5,400.6C1635.6,393.3 1636.6,387.9 1637.8,384.3C1638.9,380.8 1640.1,379.5 1641.3,379.3C1642.4,379.1 1643.4,380.0 1644.5,383.1C1645.6,386.2 1646.7,391.4 1647.8,398.1C1648.8,404.8 1649.7,413.1 1650.8,423.1C1651.8,433.1 1652.9,445.6 1654.0,458.2C1655.2,470.7 1656.4,485.3 1657.5,498.2C1658.7,511.1 1659.6,524.1 1660.8,535.7C1662.0,547.4 1663.3,558.7 1664.5,568.3C1665.8,577.9 1667.2,586.8 1668.3,593.3C1669.4,599.8 1670.4,604.3 1671.3,607.1C1672.2,609.8 1673.0,610.2 1673.8,609.6C1674.6,608.9 1675.3,606.8 1676.3,603.3C1677.3,599.8 1678.4,592.9 1679.6,588.3C1680.7,583.7 1681.9,579.1 1683.3,575.8C1684.7,572.4 1686.4,569.9 1687.8,568.3C1689.3,566.7 1690.5,566.1 1692.1,566.3C1693.6,566.5 1695.4,567.9 1697.1,569.5C1698.7,571.1 1700.2,573.3 1702.1,575.8C1704.0,578.3 1706.3,581.6 1708.3,584.5C1710.4,587.5 1712.5,590.8 1714.6,593.3C1716.7,595.8 1718.6,597.5 1720.8,599.5C1723.1,601.6 1725.4,604.1 1728.4,605.3C1731.3,606.6 1735.0,606.1 1738.4,607.1C1741.7,608.1 1744.6,610.4 1748.4,611.3C1752.1,612.3 1756.7,612.7 1760.9,612.8C1765.1,612.9 1768.8,612.1 1773.4,612.1C1778.0,612.1 1783.4,613.0 1788.4,612.8C1793.4,612.6 1798.4,611.4 1803.4,610.8C1808.4,610.3 1813.4,609.5 1818.5,609.6C1823.5,609.6 1828.5,611.1 1833.5,611.3C1838.5,611.5 1843.5,610.6 1848.5,610.8C1853.5,611.1 1859.0,612.2 1863.5,612.8C1868.0,613.5 1870.9,614.5 1875.4,614.7C1879.9,614.9 1885.4,614.3 1890.4,614.0C1895.4,613.6 1900.4,612.7 1905.4,612.7C1910.4,612.7 1915.4,614.0 1920.4,614.0C1925.4,614.0 1930.4,612.7 1935.4,612.7C1940.4,612.7 1945.4,613.6 1950.5,614.0C1955.5,614.3 1959.8,614.5 1965.5,614.7C1971.1,614.9 1981.1,615.1 1984.2,615.2" stroke="#0000ff"/>
<path d="M1151.8,607.7C1153.1,607.4 1157.4,606.5 1160.0,605.7C1162.6,604.9 1165.0,603.6 1167.5,603.2C1170.0,602.8 1173.2,601.7 1175.0,603.2C1176.9,604.7 1177.1,610.2 1178.8,612.2C1180.5,614.2 1182.7,614.9 1185.0,615.2C1187.3,615.5 1190.5,615.1 1192.5,614.0C1194.6,612.8 1195.9,609.5 1197.6,608.2C1199.2,607.0 1200.9,606.2 1202.6,606.5C1204.2,606.7 1205.9,609.3 1207.6,609.7C1209.2,610.1 1210.9,609.4 1212.6,609.0C1214.2,608.5 1215.9,606.4 1217.6,607.2C1219.2,608.0 1220.5,612.0 1222.6,614.0C1224.7,615.9 1227.2,618.7 1230.1,619.0C1233.0,619.3 1237.2,617.4 1240.1,615.7C1243.0,614.0 1245.3,610.8 1247.6,609.0C1249.9,607.1 1251.8,604.8 1253.9,604.7C1255.9,604.6 1258.2,606.1 1260.1,608.2C1262.0,610.3 1263.2,614.8 1265.1,617.2C1267.0,619.6 1269.3,622.2 1271.4,622.7C1273.5,623.2 1275.6,620.4 1277.6,620.2C1279.7,620.0 1281.8,622.5 1283.9,621.5C1286.0,620.4 1287.9,615.6 1290.2,614.0C1292.4,612.3 1295.2,611.3 1297.7,611.5C1300.2,611.7 1302.7,613.5 1305.2,615.2C1307.7,616.9 1310.2,621.5 1312.7,621.5C1315.2,621.5 1317.3,616.5 1320.2,615.2C1323.1,614.0 1326.9,614.0 1330.2,614.0C1333.5,614.0 1337.3,615.4 1340.2,615.2C1343.1,615.0 1345.6,614.0 1347.7,612.7C1349.8,611.5 1350.8,608.8 1352.7,607.7C1354.6,606.7 1356.9,606.0 1359.0,606.5C1361.1,606.9 1363.7,608.2 1365.2,610.2C1366.7,612.2 1365.9,617.2 1368.0,618.3C1370.1,619.5 1374.3,617.7 1378.0,617.1C1381.8,616.4 1386.3,615.1 1390.5,614.6C1394.7,614.0 1398.4,614.4 1403.0,613.8C1407.6,613.2 1413.5,611.5 1418.0,610.8C1422.6,610.1 1427.2,610.6 1430.6,609.6C1433.9,608.5 1435.6,606.6 1438.1,604.6C1440.6,602.5 1443.1,600.2 1445.6,597.0C1448.1,593.9 1450.8,590.2 1453.1,585.8C1455.4,581.4 1457.5,575.6 1459.3,570.8C1461.2,566.0 1462.7,560.1 1464.3,557.0C1466.0,553.9 1467.7,552.0 1469.3,552.0C1471.0,552.0 1472.9,553.9 1474.4,557.0C1475.8,560.1 1476.9,565.1 1478.1,570.8C1479.4,576.4 1480.7,583.3 1481.9,590.8C1483.0,598.3 1484.2,609.4 1485.1,615.8C1486.1,622.3 1486.8,629.2 1487.6,629.6C1488.5,630.0 1489.2,624.4 1490.1,618.3C1491.0,612.3 1492.0,602.5 1493.1,593.3C1494.2,584.1 1495.6,571.8 1496.9,563.3C1498.1,554.7 1499.4,547.0 1500.6,542.0C1501.9,537.0 1502.9,534.9 1504.4,533.2C1505.9,531.6 1507.9,532.6 1509.4,532.0C1510.8,531.4 1511.9,532.6 1513.1,529.5C1514.4,526.4 1515.6,520.1 1516.9,513.2C1518.2,506.3 1519.4,495.7 1520.7,488.2C1521.9,480.7 1523.2,474.2 1524.4,468.2C1525.7,462.1 1526.9,455.3 1528.2,451.9C1529.4,448.5 1530.7,447.2 1531.9,447.6C1533.2,448.1 1534.4,449.3 1535.7,454.4C1536.9,459.5 1538.3,468.8 1539.4,478.2C1540.6,487.6 1541.6,499.0 1542.7,510.7C1543.7,522.4 1544.8,535.7 1545.7,548.2C1546.6,560.8 1547.5,576.8 1548.2,585.8C1548.9,594.8 1549.3,601.6 1549.9,602.0C1550.6,602.5 1551.1,597.3 1551.9,588.3C1552.8,579.3 1554.1,562.0 1555.2,548.2C1556.2,534.5 1557.1,519.1 1558.2,505.7C1559.2,492.4 1560.4,478.2 1561.4,468.2C1562.5,458.2 1563.6,450.2 1564.7,445.6C1565.8,441.1 1567.0,440.4 1568.2,440.6C1569.4,440.8 1570.6,442.3 1571.7,446.9C1572.8,451.5 1573.7,459.6 1574.7,468.2C1575.7,476.7 1576.7,486.9 1577.7,498.2C1578.7,509.5 1579.7,523.2 1580.7,535.7C1581.7,548.3 1582.8,562.0 1583.7,573.3C1584.6,584.5 1585.6,597.0 1586.2,603.3C1586.9,609.6 1587.1,611.6 1587.7,610.8C1588.3,610.0 1588.9,607.1 1589.7,598.3C1590.6,589.5 1591.7,572.9 1592.7,558.3C1593.7,543.7 1594.7,525.7 1595.7,510.7C1596.7,495.7 1597.7,480.3 1598.7,468.2C1599.7,456.1 1600.7,444.8 1601.7,438.1C1602.7,431.5 1603.7,429.0 1604.7,428.1C1605.7,427.3 1606.7,429.0 1607.7,433.1C1608.7,437.3 1609.7,445.2 1610.7,453.1C1611.7,461.1 1612.7,471.9 1613.7,480.7C1614.8,489.4 1615.8,499.0 1617.0,505.7C1618.2,512.4 1619.3,517.3 1620.8,520.7C1622.2,524.1 1624.1,525.4 1625.8,526.2C1627.4,527.1 1629.3,524.6 1630.8,525.7C1632.2,526.9 1633.3,528.6 1634.5,533.2C1635.8,537.8 1637.0,545.7 1638.3,553.2C1639.5,560.8 1640.8,569.1 1642.0,578.3C1643.3,587.5 1644.7,599.6 1645.8,608.3C1646.8,617.1 1647.6,626.5 1648.3,630.8C1649.0,635.2 1649.4,635.4 1650.0,634.6C1650.7,633.8 1651.2,631.9 1652.0,625.8C1652.9,619.8 1654.2,607.1 1655.3,598.3C1656.4,589.5 1657.5,579.7 1658.8,573.3C1660.0,566.8 1661.5,562.3 1662.8,559.5C1664.1,556.7 1665.3,556.1 1666.5,556.3C1667.8,556.5 1669.0,558.3 1670.3,560.8C1671.6,563.2 1673.0,567.0 1674.6,570.8C1676.1,574.5 1677.9,579.3 1679.6,583.3C1681.2,587.2 1682.9,591.0 1684.6,594.5C1686.2,598.1 1687.9,602.1 1689.6,604.6C1691.2,607.1 1692.7,608.7 1694.6,609.6C1696.5,610.4 1698.5,609.9 1700.8,609.6C1703.1,609.3 1705.8,608.0 1708.3,607.8C1710.8,607.6 1713.3,607.6 1715.8,608.3C1718.4,609.0 1720.4,611.2 1723.3,612.1C1726.3,612.9 1730.0,612.6 1733.4,613.3C1736.7,614.0 1740.0,615.7 1743.4,616.3C1746.7,616.9 1750.0,617.2 1753.4,617.1C1756.7,616.9 1760.5,616.6 1763.4,615.3C1766.3,614.1 1768.4,609.7 1770.9,609.6C1773.4,609.4 1775.5,614.4 1778.4,614.6C1781.3,614.8 1785.1,610.6 1788.4,610.8C1791.8,611.0 1795.1,615.2 1798.4,615.8C1801.8,616.4 1805.1,615.4 1808.4,614.6C1811.8,613.7 1814.7,610.9 1818.5,610.8C1822.2,610.7 1826.8,613.2 1831.0,613.8C1835.1,614.4 1839.7,614.9 1843.5,614.6C1847.2,614.3 1851.0,613.7 1853.5,612.1C1856.0,610.4 1856.8,604.8 1858.5,604.6C1860.2,604.4 1861.5,608.2 1863.5,610.8C1865.5,613.4 1868.4,618.0 1870.4,620.2C1872.3,622.4 1873.5,625.2 1875.4,624.0C1877.2,622.7 1879.5,615.3 1881.6,612.7C1883.7,610.1 1885.6,608.2 1887.9,608.2C1890.2,608.2 1892.7,613.0 1895.4,612.7C1898.1,612.4 1901.6,606.0 1904.2,606.5C1906.7,606.9 1907.7,613.1 1910.4,615.2C1913.1,617.3 1917.1,619.0 1920.4,619.0C1923.8,619.0 1927.1,616.3 1930.4,615.2C1933.8,614.1 1937.5,613.0 1940.4,612.2C1943.4,611.5 1945.4,610.4 1948.0,610.7C1950.5,611.0 1952.5,612.8 1955.5,614.0C1958.4,615.1 1962.1,616.7 1965.5,617.7C1968.8,618.8 1972.3,619.4 1975.5,620.2C1978.6,621.1 1982.8,622.3 1984.2,622.7" stroke="#ff00ff"/>
<path d="M1151.8,615.2C1153.6,615.4 1159.1,616.9 1162.5,616.5C1166.0,616.1 1169.2,613.1 1172.5,612.7C1175.9,612.3 1179.2,613.5 1182.5,614.0C1185.9,614.5 1189.2,614.9 1192.5,615.7C1195.9,616.5 1199.2,618.0 1202.6,619.0C1205.9,619.9 1209.2,621.5 1212.6,621.5C1215.9,621.5 1219.2,619.6 1222.6,619.0C1225.9,618.3 1229.3,618.3 1232.6,617.7C1235.9,617.2 1239.3,615.7 1242.6,615.7C1245.9,615.7 1249.3,617.2 1252.6,617.7C1255.9,618.3 1259.3,619.1 1262.6,619.0C1266.0,618.9 1269.3,617.6 1272.6,617.2C1276.0,616.8 1279.3,617.2 1282.6,616.5C1286.0,615.7 1289.7,613.8 1292.7,612.7C1295.6,611.7 1297.7,610.0 1300.2,610.2C1302.7,610.4 1305.2,613.0 1307.7,614.0C1310.2,614.9 1312.3,615.1 1315.2,615.7C1318.1,616.3 1321.8,616.6 1325.2,617.7C1328.5,618.8 1331.9,622.1 1335.2,622.2C1338.5,622.3 1341.9,619.3 1345.2,618.2C1348.5,617.1 1351.9,615.9 1355.2,615.7C1358.5,615.5 1363.1,616.9 1365.2,617.2C1367.4,617.6 1365.5,617.4 1368.0,617.8C1370.5,618.2 1376.3,619.1 1380.5,619.6C1384.7,620.1 1388.8,621.0 1393.0,620.8C1397.2,620.6 1401.4,619.5 1405.5,618.3C1409.7,617.2 1414.3,614.9 1418.0,613.8C1421.8,612.8 1425.1,612.1 1428.1,612.1C1431.0,612.1 1433.1,612.6 1435.6,613.8C1438.1,615.1 1440.8,618.0 1443.1,619.6C1445.4,621.2 1447.5,622.6 1449.3,623.3C1451.2,624.1 1452.7,624.5 1454.3,624.1C1456.0,623.7 1457.7,622.4 1459.3,620.8C1461.0,619.2 1462.7,617.1 1464.3,614.6C1466.0,612.1 1467.5,608.5 1469.3,605.8C1471.2,603.1 1473.3,600.3 1475.6,598.3C1477.9,596.3 1480.6,594.7 1483.1,593.8C1485.6,592.9 1488.3,592.2 1490.6,592.8C1492.9,593.3 1495.0,594.9 1496.9,597.0C1498.8,599.2 1500.2,603.0 1501.9,605.8C1503.5,608.6 1505.4,612.2 1506.9,613.8C1508.4,615.4 1509.4,616.2 1510.6,615.3C1511.9,614.4 1513.1,612.4 1514.4,608.3C1515.7,604.2 1516.9,597.0 1518.2,590.8C1519.4,584.5 1520.6,576.6 1521.9,570.8C1523.2,564.9 1524.4,559.6 1525.7,555.8C1526.9,551.9 1528.3,549.3 1529.4,547.8C1530.5,546.2 1531.4,546.0 1532.4,546.2C1533.5,546.5 1534.6,547.1 1535.7,549.5C1536.7,551.9 1537.7,555.5 1538.7,560.8C1539.6,566.0 1540.5,573.3 1541.4,580.8C1542.3,588.3 1543.1,598.7 1543.9,605.8C1544.7,612.9 1545.5,621.2 1546.2,623.3C1546.9,625.4 1547.3,623.3 1548.2,618.3C1549.0,613.3 1550.1,602.5 1551.2,593.3C1552.2,584.1 1553.3,572.9 1554.4,563.3C1555.6,553.7 1556.9,543.2 1558.2,535.7C1559.4,528.2 1560.7,522.4 1561.9,518.2C1563.2,514.0 1564.5,512.1 1565.7,510.7C1566.9,509.3 1567.9,509.5 1569.0,509.7C1570.0,510.0 1571.2,510.4 1572.2,512.2C1573.2,514.0 1574.2,516.4 1575.2,520.7C1576.2,525.1 1577.2,531.1 1578.2,538.2C1579.2,545.3 1580.2,553.7 1581.2,563.3C1582.2,572.9 1583.3,585.4 1584.2,595.8C1585.2,606.2 1586.2,619.2 1587.0,625.8C1587.8,632.5 1588.3,636.3 1589.0,635.8C1589.6,635.4 1590.2,630.4 1591.0,623.3C1591.8,616.2 1592.7,602.9 1593.7,593.3C1594.7,583.7 1595.9,573.3 1597.0,565.8C1598.1,558.3 1599.1,552.4 1600.2,548.2C1601.4,544.1 1602.6,542.1 1603.7,540.7C1604.9,539.4 1605.9,539.4 1607.0,540.0C1608.1,540.6 1609.1,541.5 1610.2,544.5C1611.4,547.5 1612.6,552.6 1613.7,558.3C1614.9,563.9 1616.1,571.6 1617.2,578.3C1618.4,585.0 1619.5,592.5 1620.8,598.3C1622.0,604.1 1623.3,610.4 1624.5,613.3C1625.8,616.2 1627.0,616.7 1628.3,615.8C1629.5,615.0 1630.5,611.2 1632.0,608.3C1633.5,605.4 1635.4,600.8 1637.0,598.3C1638.7,595.8 1640.1,594.3 1642.0,593.3C1643.9,592.2 1646.2,591.8 1648.3,592.0C1650.4,592.2 1652.5,592.9 1654.5,594.5C1656.6,596.2 1658.7,598.9 1660.8,602.0C1662.9,605.2 1665.2,610.2 1667.0,613.3C1668.9,616.4 1670.2,619.8 1672.0,620.8C1673.9,621.9 1676.0,620.2 1678.3,619.6C1680.6,618.9 1683.3,617.3 1685.8,617.1C1688.3,616.9 1690.4,617.5 1693.3,618.3C1696.2,619.2 1700.0,621.2 1703.3,622.1C1706.7,622.9 1710.0,623.5 1713.3,623.3C1716.7,623.1 1720.0,620.9 1723.3,620.8C1726.7,620.7 1730.0,622.4 1733.4,622.8C1736.7,623.2 1739.2,623.7 1743.4,623.3C1747.5,623.0 1753.4,621.2 1758.4,620.8C1763.4,620.4 1768.4,620.6 1773.4,620.8C1778.4,621.0 1783.4,621.7 1788.4,622.1C1793.4,622.5 1798.4,623.5 1803.4,623.3C1808.4,623.1 1813.4,620.8 1818.5,620.8C1823.5,620.8 1828.5,623.5 1833.5,623.3C1838.5,623.1 1843.5,620.0 1848.5,619.6C1853.5,619.2 1859.0,621.5 1863.5,620.8C1868.0,620.2 1871.7,616.1 1875.4,615.7C1879.0,615.3 1882.0,617.5 1885.4,618.2C1888.7,619.0 1892.1,619.7 1895.4,620.2C1898.7,620.8 1902.1,620.4 1905.4,621.5C1908.7,622.5 1912.5,625.1 1915.4,626.5C1918.3,627.9 1920.4,629.9 1922.9,629.7C1925.4,629.5 1927.5,626.5 1930.4,625.2C1933.4,624.0 1937.1,622.6 1940.4,622.2C1943.8,621.8 1947.1,622.4 1950.5,622.7C1953.8,623.0 1957.1,623.3 1960.5,624.0C1963.8,624.6 1966.5,626.5 1970.5,626.5C1974.4,626.5 1981.9,624.4 1984.2,624.0" stroke="#00ffff"/>
<path d="M1151.8,617.2C1153.6,617.0 1159.1,616.5 1162.5,615.7C1166.0,615.0 1169.2,613.0 1172.5,612.7C1175.9,612.4 1179.2,613.5 1182.5,614.0C1185.9,614.5 1189.2,615.9 1192.5,615.7C1195.9,615.5 1199.2,612.7 1202.6,612.7C1205.9,612.7 1209.2,615.0 1212.6,615.7C1215.9,616.5 1219.2,616.7 1222.6,617.2C1225.9,617.8 1229.3,618.9 1232.6,619.0C1235.9,619.1 1239.3,618.0 1242.6,617.7C1245.9,617.4 1249.3,617.1 1252.6,617.2C1255.9,617.3 1259.3,617.8 1262.6,618.2C1266.0,618.6 1269.3,619.8 1272.6,619.7C1276.0,619.6 1279.3,618.6 1282.6,617.7C1286.0,616.9 1289.3,615.3 1292.7,614.7C1296.0,614.1 1299.3,613.4 1302.7,614.0C1306.0,614.5 1309.3,617.6 1312.7,618.2C1316.0,618.8 1319.3,618.0 1322.7,617.7C1326.0,617.4 1329.4,616.6 1332.7,616.5C1336.0,616.4 1339.4,617.3 1342.7,617.2C1346.0,617.1 1349.4,616.0 1352.7,615.7C1356.0,615.5 1360.2,615.9 1362.7,615.7C1365.3,615.5 1365.5,615.1 1368.0,614.6C1370.5,614.1 1374.7,612.7 1378.0,612.8C1381.3,612.9 1384.7,614.7 1388.0,615.3C1391.4,615.9 1394.7,616.6 1398.0,616.3C1401.4,616.1 1404.7,614.0 1408.0,613.8C1411.4,613.6 1414.7,615.5 1418.0,615.3C1421.4,615.2 1425.1,613.4 1428.1,612.8C1431.0,612.3 1433.1,611.3 1435.6,612.1C1438.1,612.8 1440.2,616.0 1443.1,617.1C1446.0,618.1 1449.7,618.2 1453.1,618.3C1456.4,618.4 1459.8,617.7 1463.1,617.8C1466.4,617.9 1469.8,618.8 1473.1,618.8C1476.4,618.8 1480.2,618.5 1483.1,617.8C1486.0,617.1 1488.5,616.2 1490.6,614.6C1492.7,613.0 1494.0,610.4 1495.6,608.3C1497.3,606.2 1499.0,603.3 1500.6,602.0C1502.3,600.8 1504.0,600.5 1505.6,600.8C1507.3,601.1 1509.0,602.3 1510.6,603.8C1512.3,605.3 1513.8,607.9 1515.7,609.6C1517.5,611.2 1519.8,612.8 1521.9,613.8C1524.0,614.9 1526.1,615.2 1528.2,615.8C1530.2,616.5 1532.5,616.6 1534.4,617.8C1536.3,619.1 1538.0,621.4 1539.4,623.3C1540.9,625.3 1542.1,628.4 1543.2,629.6C1544.2,630.7 1544.8,631.0 1545.7,630.3C1546.5,629.7 1547.1,628.7 1548.2,625.8C1549.2,623.0 1550.7,617.5 1551.9,613.3C1553.2,609.1 1554.3,604.6 1555.7,600.8C1557.1,597.0 1558.7,593.3 1560.2,590.8C1561.7,588.3 1563.0,586.9 1564.5,585.8C1565.9,584.7 1567.5,583.9 1569.0,584.0C1570.4,584.1 1571.7,585.0 1573.2,586.3C1574.7,587.6 1576.2,589.4 1577.7,592.0C1579.2,594.7 1580.5,598.5 1582.0,602.0C1583.4,605.6 1584.8,610.0 1586.2,613.3C1587.6,616.6 1589.1,620.2 1590.2,622.1C1591.4,623.9 1592.1,624.5 1593.2,624.6C1594.3,624.7 1595.5,623.8 1597.0,622.8C1598.4,621.9 1600.1,619.7 1602.0,618.8C1603.9,618.0 1606.2,618.5 1608.2,617.8C1610.3,617.1 1612.6,615.9 1614.5,614.6C1616.4,613.2 1617.8,611.2 1619.5,609.6C1621.2,607.9 1623.0,605.7 1624.5,604.6C1626.1,603.4 1627.3,602.7 1628.8,602.8C1630.2,602.9 1631.7,604.0 1633.3,605.3C1634.8,606.6 1636.6,609.0 1638.3,610.8C1639.9,612.6 1641.2,614.7 1643.3,616.3C1645.4,618.0 1648.3,619.7 1650.8,620.8C1653.3,622.0 1655.8,622.7 1658.3,623.3C1660.8,623.9 1663.3,624.8 1665.8,624.6C1668.3,624.4 1670.4,623.0 1673.3,622.1C1676.2,621.1 1680.4,619.4 1683.3,618.8C1686.2,618.2 1688.3,617.8 1690.8,618.3C1693.3,618.9 1695.4,621.2 1698.3,622.1C1701.2,622.9 1705.0,623.3 1708.3,623.3C1711.7,623.3 1715.0,622.1 1718.3,622.1C1721.7,622.1 1724.6,622.9 1728.4,623.3C1732.1,623.7 1736.7,624.8 1740.9,624.6C1745.0,624.4 1748.8,622.7 1753.4,622.1C1758.0,621.4 1763.4,620.9 1768.4,620.8C1773.4,620.7 1778.4,620.9 1783.4,621.3C1788.4,621.7 1793.4,623.0 1798.4,623.3C1803.4,623.7 1808.4,623.7 1813.4,623.3C1818.4,622.9 1823.5,621.4 1828.5,620.8C1833.5,620.2 1838.5,619.5 1843.5,619.6C1848.5,619.7 1853.2,620.9 1858.5,621.3C1863.8,621.8 1870.5,622.3 1875.4,622.2C1880.3,622.1 1883.7,620.8 1887.9,620.7C1892.1,620.6 1896.2,621.1 1900.4,621.5C1904.6,621.8 1908.7,622.3 1912.9,622.7C1917.1,623.1 1921.2,623.9 1925.4,624.0C1929.6,624.1 1933.8,623.2 1937.9,623.2C1942.1,623.2 1946.3,624.1 1950.5,624.0C1954.6,623.9 1958.8,623.0 1963.0,622.7C1967.1,622.4 1971.9,622.4 1975.5,622.2C1979.0,622.0 1982.8,621.6 1984.2,621.5" stroke="#00ff00"/>
</g>
<rect x="1152.1" y="41.5" width="831.2" height="634.5" fill="none" stroke="#4a4a4a" stroke-width="2.6"/>
<text x="1382.23" y="32" class="t" font-size="41.6" fill="#000" textLength="134.03" lengthAdjust="spacingAndGlyphs">Lock-in</text><text x="1526.31" y="32" class="t" font-size="41.6" fill="#000" textLength="216.94" lengthAdjust="spacingAndGlyphs">(experiment)</text><text x="1162.3" y="96.3" class="t" font-size="62.6" fill="#000" textLength="72.56" lengthAdjust="spacingAndGlyphs">(b)</text><text x="1139.9" y="637.25" text-anchor="end" class="s" font-size="36.5" fill="#262626">0</text><text x="1139.9" y="531.05" text-anchor="end" class="s" font-size="36.5" fill="#262626">0.2</text><text x="1139.9" y="424.85" text-anchor="end" class="s" font-size="36.5" fill="#262626">0.4</text><text x="1139.9" y="318.65" text-anchor="end" class="s" font-size="36.5" fill="#262626">0.6</text><text x="1139.9" y="212.45" text-anchor="end" class="s" font-size="36.5" fill="#262626">0.8</text><text x="1139.9" y="106.25" text-anchor="end" class="s" font-size="36.5" fill="#262626">1</text><text transform="translate(1072,501.6) rotate(-90)" class="s" font-size="39.6" fill="#262626" textLength="284.57" lengthAdjust="spacingAndGlyphs">amplitude [A.U.]</text>
</g>
<g id="panel-c">
<path d="M323.12,808.4V1442.8M530.95,808.4V1442.8M738.77,808.4V1442.8M115.3,1389.4H946.6M115.3,1283.64H946.6M115.3,1177.88H946.6M115.3,1072.12H946.6M115.3,966.36H946.6M115.3,860.6H946.6" stroke="#dcdcdc" stroke-width="1.6" fill="none"/>
<path d="M323.12,808.4v8.5M323.12,1442.8v-8.5M530.95,808.4v8.5M530.95,1442.8v-8.5M738.77,808.4v8.5M738.77,1442.8v-8.5M115.3,1389.4h8.5M946.6,1389.4h-8.5M115.3,1283.64h8.5M946.6,1283.64h-8.5M115.3,1177.88h8.5M946.6,1177.88h-8.5M115.3,1072.12h8.5M946.6,1072.12h-8.5M115.3,966.36h8.5M946.6,966.36h-8.5M115.3,860.6h8.5M946.6,860.6h-8.5" stroke="#555555" stroke-width="1.8" fill="none"/>
<rect x="122.6" y="885" width="286.4" height="256.1" fill="#fff"/><path d="M278.36,905.5V1081.1M369.82,905.5V1081.1M186.9,993.3H406.4" stroke="#ebebeb" stroke-width="1.2" fill="none"/><path d="M278.36,1081.1v-3.5M278.36,905.5v3.5M369.82,1081.1v-3.5M369.82,905.5v3.5M186.9,993.3h3.5M406.4,993.3h-3.5" stroke="#969696" stroke-width="1.2" fill="none"/><rect x="186.9" y="905.5" width="219.5" height="175.6" fill="none" stroke="#969696" stroke-width="1.6"/><path d="M205.7,933.6V960.3M201.3,933.6h8.8M201.3,960.3h8.8M242.5,979.1V1005.2M238.1,979.1h8.8M238.1,1005.2h8.8M279.3,984.6V1019.9M274.9,984.6h8.8M274.9,1019.9h8.8M315.6,993.2V1014.5M311.2,993.2h8.8M311.2,1014.5h8.8M352.3,992.9V1018.5M347.9,992.9h8.8M347.9,1018.5h8.8M389.2,1000.2V1026.5M384.8,1000.2h8.8M384.8,1026.5h8.8" stroke="#101010" stroke-width="2.2" fill="none"/><circle cx="205.7" cy="946.6" r="7.3" fill="none" stroke="#101010" stroke-width="2.2"/><circle cx="242.5" cy="992.4" r="7.3" fill="none" stroke="#101010" stroke-width="2.2"/><circle cx="279.3" cy="1002.4" r="7.3" fill="none" stroke="#101010" stroke-width="2.2"/><circle cx="315.6" cy="1004" r="7.3" fill="none" stroke="#101010" stroke-width="2.2"/><circle cx="352.3" cy="1005.2" r="7.3" fill="none" stroke="#101010" stroke-width="2.2"/><circle cx="389.2" cy="1013.7" r="7.3" fill="none" stroke="#101010" stroke-width="2.2"/><text x="186.9" y="1108.9" text-anchor="middle" class="s" font-size="21.4" fill="#303030">0</text><text x="278.36" y="1108.9" text-anchor="middle" class="s" font-size="21.4" fill="#303030">5</text><text x="369.82" y="1108.9" text-anchor="middle" class="s" font-size="21.4" fill="#303030">10</text><text x="179.9" y="1091.2" text-anchor="end" class="s" font-size="21.4" fill="#303030">0</text><text x="179.9" y="1003.4" text-anchor="end" class="s" font-size="21.4" fill="#303030">10</text><text x="179.9" y="914.6" text-anchor="end" class="s" font-size="21.4" fill="#303030">20</text><text x="206.98" y="1136.4" class="s" font-size="24.2" fill="#303030" textLength="179.8" lengthAdjust="spacingAndGlyphs">harmonic number</text><text transform="translate(148.6,1056.37) rotate(-90)" class="s" font-size="24.2" fill="#303030" textLength="125.65" lengthAdjust="spacingAndGlyphs">FWHM [mT]</text>
<g fill="none" stroke-width="2.4" stroke-linejoin="round" stroke-linecap="butt" clip-path="url(#clip-c)">
<path d="M115.5,1385.3 L123.8,1381.4 L125.8,1381.1 L127.8,1380.8 L129.8,1380.5 L131.8,1380.3 L133.8,1380.1 L135.8,1379.9 L137.8,1379.7 L139.8,1379.6 L141.8,1379.5 L143.8,1379.3 L145.8,1379.2 L147.8,1379.2 L149.8,1379.1 L151.8,1379.0 L153.8,1379.0 L155.8,1378.9 L157.8,1378.9 L159.8,1378.8 L161.8,1378.8 L163.8,1378.8 L165.8,1378.7 L167.8,1378.7 L169.8,1378.7 L171.8,1378.7 L173.8,1378.6 L175.8,1378.6 L177.8,1378.5 L179.8,1378.5 L181.8,1378.4 L183.8,1378.4 L185.8,1378.3 L187.8,1378.2 L189.8,1378.1 L191.8,1377.9 L193.8,1377.8 L195.8,1377.6 L197.8,1377.5 L199.8,1377.3 L201.8,1377.0 L203.8,1376.8 L205.8,1376.6 L207.8,1376.3 L209.8,1376.0 L211.8,1375.8 L213.8,1375.5 L215.8,1375.2 L217.8,1374.8 L219.8,1374.5 L221.8,1374.2 L223.8,1373.8 L225.8,1373.5 L227.8,1373.1 L229.8,1372.8 L231.8,1372.4 L233.8,1372.0 L235.8,1371.6 L237.8,1371.2 L239.8,1370.9 L241.8,1370.5 L243.8,1370.1 L245.8,1369.7 L247.8,1369.3 L249.8,1368.9 L251.8,1368.5 L253.8,1368.1 L255.8,1367.8 L257.8,1367.4 L259.8,1367.0 L261.8,1366.6 L263.8,1366.2 L265.8,1365.9 L267.8,1365.5 L269.8,1365.1 L271.8,1364.8 L273.8,1364.4 L275.8,1364.0 L277.8,1363.7 L279.8,1363.3 L281.8,1362.9 L283.8,1362.5 L285.8,1362.1 L287.8,1361.7 L289.8,1361.3 L291.8,1360.8 L293.8,1360.4 L295.8,1359.9 L297.8,1359.5 L299.8,1359.0 L301.8,1358.4 L303.8,1357.9 L305.8,1357.3 L307.8,1356.7 L309.8,1356.1 L311.8,1355.5 L313.8,1354.8 L315.8,1354.1 L317.8,1353.3 L319.8,1352.5 L321.8,1351.7 L323.8,1350.8 L325.8,1349.9 L327.8,1348.9 L329.8,1347.8 L331.8,1346.8 L333.8,1345.6 L335.8,1344.4 L337.8,1343.1 L339.8,1341.8 L341.8,1340.4 L343.8,1338.9 L345.8,1337.3 L347.8,1335.7 L349.8,1334.0 L351.8,1332.2 L353.8,1330.2 L355.8,1328.2 L357.8,1326.2 L359.8,1324.0 L361.8,1321.6 L363.8,1319.2 L365.8,1316.7 L367.8,1314.0 L369.8,1311.2 L371.8,1308.3 L373.8,1305.3 L375.8,1302.1 L377.8,1298.7 L379.8,1295.3 L381.8,1291.6 L383.8,1287.8 L385.8,1283.9 L387.8,1279.7 L389.8,1275.4 L391.8,1270.9 L393.8,1266.3 L395.8,1261.4 L397.8,1256.4 L399.8,1251.2 L401.8,1245.8 L403.8,1240.1 L405.8,1234.3 L407.8,1228.3 L409.8,1222.1 L411.8,1215.7 L413.8,1209.0 L415.8,1202.2 L417.8,1195.2 L419.8,1188.0 L421.8,1180.7 L423.8,1173.1 L425.8,1165.4 L427.8,1157.5 L429.8,1149.5 L431.8,1141.3 L433.8,1133.0 L435.8,1124.6 L437.8,1116.0 L439.8,1107.4 L441.8,1098.7 L443.8,1090.0 L445.8,1081.2 L447.8,1072.4 L449.8,1063.5 L451.8,1054.8 L453.8,1046.0 L455.8,1037.2 L457.8,1028.6 L459.8,1020.0 L461.8,1011.6 L463.8,1003.3 L465.8,995.1 L467.8,987.1 L469.8,979.2 L471.8,971.6 L473.8,964.1 L475.8,956.9 L477.8,949.9 L479.8,943.1 L481.8,936.6 L483.8,930.4 L485.8,924.4 L487.8,918.6 L489.8,913.2 L491.8,908.0 L493.8,903.1 L495.8,898.5 L497.8,894.1 L499.8,890.0 L501.8,886.2 L503.8,882.7 L505.8,879.4 L507.8,876.4 L509.8,873.7 L511.8,871.2 L513.8,869.0 L515.8,867.0 L517.8,865.4 L519.8,863.9 L521.8,862.7 L523.8,861.7 L525.8,861.0 L527.8,860.6 L529.8,860.3 L531.8,860.3 L533.8,860.6 L535.8,861.1 L537.8,861.8 L539.8,862.8 L541.8,864.0 L543.8,865.5 L545.8,867.2 L547.8,869.2 L549.8,871.5 L551.8,874.0 L553.8,876.7 L555.8,879.7 L557.8,883.0 L559.8,886.6 L561.8,890.4 L563.8,894.5 L565.8,898.9 L567.8,903.6 L569.8,908.5 L571.8,913.7 L573.8,919.2 L575.8,925.0 L577.8,931.0 L579.8,937.3 L581.8,943.8 L583.8,950.6 L585.8,957.6 L587.8,964.9 L589.8,972.3 L591.8,980.0 L593.8,987.9 L595.8,995.9 L597.8,1004.1 L599.8,1012.5 L601.8,1020.9 L603.8,1029.5 L605.8,1038.2 L607.8,1046.9 L609.8,1055.7 L611.8,1064.5 L613.8,1073.4 L615.8,1082.2 L617.8,1091.0 L619.8,1099.8 L621.8,1108.5 L623.8,1117.2 L625.8,1125.7 L627.8,1134.2 L629.8,1142.5 L631.8,1150.7 L633.8,1158.8 L635.8,1166.7 L637.8,1174.4 L639.8,1182.0 L641.8,1189.4 L643.8,1196.6 L645.8,1203.7 L647.8,1210.5 L649.8,1217.2 L651.8,1223.6 L653.8,1229.8 L655.8,1235.9 L657.8,1241.7 L659.8,1247.4 L661.8,1252.8 L663.8,1258.1 L665.8,1263.1 L667.8,1268.0 L669.8,1272.7 L671.8,1277.1 L673.8,1281.4 L675.8,1285.6 L677.8,1289.5 L679.8,1293.3 L681.8,1296.9 L683.8,1300.3 L685.8,1303.7 L687.8,1306.8 L689.8,1309.8 L691.8,1312.6 L693.8,1315.3 L695.8,1317.9 L697.8,1320.4 L699.8,1322.7 L701.8,1325.0 L703.8,1327.1 L705.8,1329.1 L707.8,1331.0 L709.8,1332.8 L711.8,1334.5 L713.8,1336.1 L715.8,1337.7 L717.8,1339.2 L719.8,1340.5 L721.8,1341.9 L723.8,1343.1 L725.8,1344.3 L727.8,1345.5 L729.8,1346.5 L731.8,1347.6 L733.8,1348.6 L735.8,1349.5 L737.8,1350.4 L739.8,1351.2 L741.8,1352.0 L743.8,1352.8 L745.8,1353.6 L747.8,1354.3 L749.8,1355.0 L751.8,1355.6 L753.8,1356.3 L755.8,1356.9 L757.8,1357.5 L759.8,1358.1 L761.8,1358.7 L763.8,1359.2 L765.8,1359.8 L767.8,1360.3 L769.8,1360.8 L771.8,1361.3 L773.8,1361.8 L775.8,1362.3 L777.8,1362.8 L779.8,1363.2 L781.8,1363.7 L783.8,1364.1 L785.8,1364.5 L787.8,1365.0 L789.8,1365.4 L791.8,1365.8 L793.8,1366.2 L795.8,1366.6 L797.8,1367.0 L799.8,1367.4 L801.8,1367.8 L803.8,1368.1 L805.8,1368.5 L807.8,1368.9 L809.8,1369.2 L811.8,1369.6 L813.8,1369.9 L815.8,1370.3 L817.8,1370.6 L819.8,1371.0 L821.8,1371.3 L823.8,1371.6 L825.8,1371.9 L827.8,1372.2 L829.8,1372.5 L831.8,1372.8 L833.8,1373.2 L835.8,1373.5 L837.8,1373.7 L839.8,1374.0 L841.8,1374.3 L843.8,1374.6 L845.8,1374.8 L847.8,1375.1 L849.8,1375.3 L851.8,1375.6 L853.8,1375.8 L855.8,1376.1 L857.8,1376.3 L859.8,1376.5 L861.8,1376.7 L863.8,1377.0 L865.8,1377.2 L867.8,1377.3 L869.8,1377.5 L871.8,1377.7 L873.8,1377.9 L875.8,1378.0 L877.8,1378.2 L879.8,1378.3 L881.8,1378.4 L883.8,1378.5 L885.8,1378.7 L887.8,1378.8 L889.8,1378.8 L891.8,1378.9 L893.8,1379.0 L895.8,1379.0 L897.8,1379.1 L899.8,1379.1 L901.8,1379.2 L903.8,1379.2 L905.8,1379.2 L907.8,1379.2 L909.8,1379.3 L911.8,1379.3 L913.8,1379.4 L915.8,1379.4 L917.8,1379.5 L919.8,1379.6 L921.8,1379.7 L923.8,1379.8 L925.8,1380.0 L927.8,1380.1 L929.8,1380.3 L931.8,1380.5 L933.8,1380.8 L935.8,1381.1 L937.4,1381.3 L945.7,1385.3" stroke="#000000"/>
<path d="M115.3,1389.6 L160.0,1389.2 L200.0,1388.5 L250.0,1386.6 L275.2,1383.5 L300.3,1379.1 L322.2,1373.4 L337.8,1367.2 L343.5,1361.4 L349.8,1357.7 L356.0,1352.7 L362.3,1347.0 L368.5,1340.2 L374.8,1331.4 L379.8,1323.3 L383.6,1315.8 L387.3,1307.6 L391.1,1298.9 L394.8,1288.9 L398.6,1277.6 L402.3,1266.3 L406.1,1255.1 L409.8,1243.8 L413.6,1232.6 L417.3,1221.3 L421.1,1211.3 L424.8,1202.5 L429.9,1198.2 L434.2,1195.0 L438.6,1198.2 L443.6,1203.8 L446.7,1212.5 L449.9,1225.0 L453.0,1240.1 L456.1,1260.1 L459.2,1282.6 L462.4,1307.6 L465.5,1337.7 L467.4,1350.2 L474.3,1350.2 L476.1,1342.7 L478.6,1320.2 L481.8,1288.9 L484.9,1257.6 L488.0,1226.3 L491.2,1195.0 L493.7,1170.0 L494.0,1164.1 L497.2,1126.6 L501.0,1094.0 L504.5,1066.5 L507.9,1046.5 L512.9,1016.6 L516.9,992.0 L518.0,991.4 L522.2,978.9 L527.2,966.9 L530.5,966.9 L530.7,966.9 L534.0,966.9 L539.0,978.9 L543.2,991.4 L544.3,992.0 L548.3,1016.6 L553.3,1046.5 L556.7,1066.5 L560.2,1094.0 L564.0,1126.6 L567.2,1164.1 L567.5,1170.0 L570.0,1195.0 L573.2,1226.3 L576.3,1257.6 L579.4,1288.9 L582.5,1320.2 L585.0,1342.7 L586.9,1350.2 L593.8,1350.2 L595.7,1337.7 L598.8,1307.6 L602.0,1282.6 L605.1,1260.1 L608.2,1240.1 L611.3,1225.0 L614.5,1212.5 L617.6,1203.8 L622.6,1198.2 L627.0,1195.0 L631.4,1198.2 L636.4,1202.5 L640.1,1211.3 L643.9,1221.3 L647.6,1232.6 L651.4,1243.8 L655.1,1255.1 L658.9,1266.3 L662.6,1277.6 L666.4,1288.9 L670.1,1298.9 L673.9,1307.6 L677.6,1315.8 L681.4,1323.3 L686.4,1331.4 L692.7,1340.2 L698.9,1347.0 L705.2,1352.7 L711.4,1357.7 L717.7,1361.4 L723.4,1367.2 L739.0,1373.4 L760.9,1379.1 L786.0,1383.5 L811.2,1386.6 L861.2,1388.5 L901.2,1389.2 L945.9,1389.6" stroke="#ff0000"/>
<path d="M114.6,1389.6 L312.8,1388.5 L337.8,1385.3 L350.4,1382.2 L362.9,1377.2 L375.4,1370.3 L385.5,1364.7 L393.0,1362.8 L399.2,1362.8 L405.5,1366.5 L411.8,1374.0 L417.4,1381.6 L423.1,1375.3 L426.8,1369.0 L429.2,1351.4 L432.4,1332.7 L436.1,1310.1 L439.9,1290.1 L443.6,1270.1 L447.4,1250.1 L451.1,1230.1 L454.9,1212.5 L458.0,1197.5 L459.9,1192.5 L467.4,1184.4 L472.4,1197.5 L477.4,1212.5 L481.1,1240.1 L484.3,1270.1 L487.4,1307.6 L489.9,1345.2 L492.7,1370.6 L493.0,1360.2 L494.9,1345.2 L498.7,1307.6 L502.4,1270.1 L506.2,1232.6 L509.9,1195.0 L512.4,1170.0 L512.0,1170.4 L514.7,1144.1 L518.0,1117.8 L522.2,1094.0 L526.5,1072.8 L530.5,1072.8 L530.7,1072.8 L534.7,1072.8 L539.0,1094.0 L543.2,1117.8 L546.5,1144.1 L549.2,1170.4 L548.8,1170.0 L551.3,1195.0 L555.0,1232.6 L558.8,1270.1 L562.5,1307.6 L566.3,1345.2 L568.2,1360.2 L568.5,1370.6 L571.3,1345.2 L573.8,1307.6 L576.9,1270.1 L580.0,1240.1 L583.8,1212.5 L588.8,1197.5 L593.8,1184.4 L601.3,1192.5 L603.2,1197.5 L606.3,1212.5 L610.1,1230.1 L613.8,1250.1 L617.6,1270.1 L621.3,1290.1 L625.1,1310.1 L628.9,1332.7 L632.0,1351.4 L634.4,1369.0 L638.1,1375.3 L643.8,1381.6 L649.4,1374.0 L655.7,1366.5 L662.0,1362.8 L668.2,1362.8 L675.7,1364.7 L685.8,1370.3 L698.3,1377.2 L710.8,1382.2 L723.4,1385.3 L748.4,1388.5 L946.6,1389.6" stroke="#0000ff"/>
<path d="M114.6,1389.6 L380.9,1389.6 L390.9,1388.1 L399.6,1384.3 L407.1,1376.8 L414.6,1365.5 L420.9,1355.5 L427.1,1346.8 L432.1,1343.8 L438.4,1349.3 L443.4,1361.8 L447.2,1374.3 L450.9,1385.6 L454.7,1374.3 L458.4,1351.8 L462.2,1324.3 L465.9,1296.7 L469.7,1274.2 L473.4,1254.2 L475.9,1240.4 L480.2,1235.4 L483.4,1236.7 L486.0,1244.2 L489.0,1259.2 L492.2,1284.2 L495.5,1314.2 L498.5,1344.3 L501.0,1355.5 L503.0,1346.8 L506.0,1329.3 L509.0,1309.2 L512.2,1281.7 L515.5,1254.2 L518.5,1229.2 L522.2,1204.1 L526.5,1179.1 L530.5,1179.1 L530.7,1179.1 L534.7,1179.1 L539.0,1204.1 L542.7,1229.2 L545.7,1254.2 L549.0,1281.7 L552.2,1309.2 L555.2,1329.3 L558.2,1346.8 L560.2,1355.5 L562.7,1344.3 L565.7,1314.2 L569.0,1284.2 L572.2,1259.2 L575.2,1244.2 L577.8,1236.7 L581.0,1235.4 L585.2,1240.4 L587.8,1254.2 L591.5,1274.2 L595.3,1296.7 L599.0,1324.3 L602.8,1351.8 L606.5,1374.3 L610.3,1385.6 L614.0,1374.3 L617.8,1361.8 L622.8,1349.3 L629.0,1343.8 L634.0,1346.8 L640.3,1355.5 L646.6,1365.5 L654.1,1376.8 L661.6,1384.3 L670.3,1388.1 L680.4,1389.6 L946.6,1389.6" stroke="#ff00ff"/>
<path d="M114.6,1389.6 L385.9,1389.6 L395.9,1388.8 L403.4,1386.3 L410.9,1384.3 L418.4,1385.6 L424.6,1389.3 L430.9,1381.3 L435.9,1371.8 L440.9,1361.8 L445.9,1353.0 L450.9,1350.0 L455.9,1353.0 L460.9,1361.8 L464.7,1374.3 L467.9,1386.8 L470.9,1379.3 L473.4,1369.3 L476.4,1354.3 L479.7,1339.3 L482.9,1321.8 L486.0,1304.2 L489.0,1295.5 L492.2,1291.2 L495.5,1293.0 L498.5,1301.7 L501.5,1316.8 L504.7,1339.3 L507.2,1366.8 L509.7,1389.3 L512.5,1366.8 L515.5,1339.3 L518.5,1314.2 L522.2,1289.2 L526.0,1269.2 L530.5,1269.2 L530.7,1269.2 L535.2,1269.2 L539.0,1289.2 L542.7,1314.2 L545.7,1339.3 L548.7,1366.8 L551.5,1389.3 L554.0,1366.8 L556.5,1339.3 L559.7,1316.8 L562.7,1301.7 L565.7,1293.0 L569.0,1291.2 L572.2,1295.5 L575.2,1304.2 L578.2,1321.8 L581.5,1339.3 L584.8,1354.3 L587.8,1369.3 L590.3,1379.3 L593.3,1386.8 L596.5,1374.3 L600.3,1361.8 L605.3,1353.0 L610.3,1350.0 L615.3,1353.0 L620.3,1361.8 L625.3,1371.8 L630.3,1381.3 L636.6,1389.3 L642.8,1385.6 L650.3,1384.3 L657.8,1386.3 L665.3,1388.8 L675.3,1389.6 L946.6,1389.6" stroke="#00ffff"/>
<path d="M114.6,1389.6 L418.4,1389.6 L425.9,1386.8 L432.1,1384.3 L437.2,1385.6 L442.2,1389.3 L447.2,1385.6 L452.2,1379.3 L457.2,1371.8 L462.2,1367.3 L467.2,1368.0 L470.9,1374.3 L475.4,1383.1 L479.7,1376.8 L484.7,1366.8 L489.7,1354.3 L493.5,1345.5 L498.5,1346.3 L502.2,1349.3 L506.0,1364.3 L509.7,1375.6 L514.7,1370.6 L518.5,1365.5 L522.2,1351.8 L526.0,1337.3 L530.5,1337.3 L530.7,1337.3 L535.2,1337.3 L539.0,1351.8 L542.7,1365.5 L546.5,1370.6 L551.5,1375.6 L555.2,1364.3 L559.0,1349.3 L562.7,1346.3 L567.7,1345.5 L571.5,1354.3 L576.5,1366.8 L581.5,1376.8 L585.8,1383.1 L590.3,1374.3 L594.0,1368.0 L599.0,1367.3 L604.0,1371.8 L609.0,1379.3 L614.0,1385.6 L619.0,1389.3 L624.0,1385.6 L629.0,1384.3 L635.3,1386.8 L642.8,1389.6 L946.6,1389.6" stroke="#00ff00"/>
</g>
<rect x="115.3" y="808.4" width="831.3" height="634.4" fill="none" stroke="#555555" stroke-width="1.8"/>
<text x="381.9" y="798" class="t" font-size="41.6" fill="#000" textLength="93.26" lengthAdjust="spacingAndGlyphs">STFT</text><text x="490.75" y="798" class="t" font-size="41.6" fill="#000" textLength="201.43" lengthAdjust="spacingAndGlyphs">(simulation)</text><text x="123.7" y="865.6" class="t" font-size="62.6" fill="#000" textLength="71.6" lengthAdjust="spacingAndGlyphs">(c)</text><text x="103.1" y="1402.25" text-anchor="end" class="s" font-size="36.5" fill="#262626">0</text><text x="103.1" y="1296.49" text-anchor="end" class="s" font-size="36.5" fill="#262626">0.2</text><text x="103.1" y="1190.73" text-anchor="end" class="s" font-size="36.5" fill="#262626">0.4</text><text x="103.1" y="1084.97" text-anchor="end" class="s" font-size="36.5" fill="#262626">0.6</text><text x="103.1" y="979.21" text-anchor="end" class="s" font-size="36.5" fill="#262626">0.8</text><text x="103.1" y="873.45" text-anchor="end" class="s" font-size="36.5" fill="#262626">1</text><text transform="translate(35,1267.6) rotate(-90)" class="s" font-size="39.6" fill="#262626" textLength="284.57" lengthAdjust="spacingAndGlyphs">amplitude [A.U.]</text><text x="113.8" y="1494.2" text-anchor="middle" class="s" font-size="36.5" fill="#262626">-40</text><text x="321.62" y="1494.2" text-anchor="middle" class="s" font-size="36.5" fill="#262626">-20</text><text x="530.95" y="1494.2" text-anchor="middle" class="s" font-size="36.5" fill="#262626">0</text><text x="738.77" y="1494.2" text-anchor="middle" class="s" font-size="36.5" fill="#262626">20</text><text x="946.6" y="1494.2" text-anchor="middle" class="s" font-size="36.5" fill="#262626">40</text><text x="364.43" y="1543.6" class="s" font-size="39.6" fill="#262626" textLength="333.83" lengthAdjust="spacingAndGlyphs">magnetic field [mT]</text><line x1="621.6" y1="940.5" x2="596.97" y2="951.96" stroke="#000" stroke-width="1.7"/><polygon points="587,956.6 596.42,946.04 601.15,956.19" fill="#000"/><text x="628.38" y="951.9" class="sb" font-size="35.6" fill="#000" textLength="18.7" lengthAdjust="spacingAndGlyphs">1</text><text x="647.82" y="939.6" class="sb" font-size="23.9" fill="#000" textLength="19.9" lengthAdjust="spacingAndGlyphs">st</text><line x1="614.4" y1="1040.7" x2="572.77" y2="1068.23" stroke="#000" stroke-width="1.7"/><polygon points="563.6,1074.3 571.35,1062.46 577.53,1071.8" fill="#000"/><text x="622.48" y="1049" class="sb" font-size="35.6" fill="#ff0000" textLength="18.31" lengthAdjust="spacingAndGlyphs">3</text><text x="640.33" y="1037.9" class="sb" font-size="23.9" fill="#ff0000" textLength="24.14" lengthAdjust="spacingAndGlyphs">rd</text><line x1="660.2" y1="1138.2" x2="566.74" y2="1189.6" stroke="#000" stroke-width="1.7"/><polygon points="557.1,1194.9 565.79,1183.73 571.19,1193.54" fill="#000"/><text x="664.24" y="1148.9" class="sb" font-size="35.6" fill="#0000ff" textLength="17.8" lengthAdjust="spacingAndGlyphs">5</text><text x="683.26" y="1136.4" class="sb" font-size="23.9" fill="#0000ff" textLength="22.98" lengthAdjust="spacingAndGlyphs">th</text><line x1="669.9" y1="1207.8" x2="600.46" y2="1238.46" stroke="#000" stroke-width="1.7"/><polygon points="590.4,1242.9 600.03,1232.53 604.55,1242.77" fill="#000"/><text x="677.74" y="1211.3" class="sb" font-size="35.6" fill="#ff00ff" textLength="17.56" lengthAdjust="spacingAndGlyphs">7</text><text x="697.06" y="1199.1" class="sb" font-size="23.9" fill="#ff00ff" textLength="22.55" lengthAdjust="spacingAndGlyphs">th</text><line x1="748.1" y1="1226.9" x2="555.05" y2="1312.83" stroke="#000" stroke-width="1.7"/><polygon points="545,1317.3 554.6,1306.9 559.15,1317.13" fill="#000"/><text x="754.42" y="1233.6" class="sb" font-size="35.6" fill="#00b0f0" textLength="18.69" lengthAdjust="spacingAndGlyphs">9</text><text x="774.57" y="1221.6" class="sb" font-size="23.9" fill="#00b0f0" textLength="21.9" lengthAdjust="spacingAndGlyphs">th</text><line x1="795.6" y1="1265.7" x2="590.51" y2="1359.33" stroke="#000" stroke-width="1.7"/><polygon points="580.5,1363.9 590,1353.41 594.65,1363.6" fill="#000"/><text x="798.01" y="1271.2" class="sb" font-size="35.6" fill="#00b050" textLength="36.84" lengthAdjust="spacingAndGlyphs">11</text><text x="836.16" y="1258.5" class="sb" font-size="23.9" fill="#00b050" textLength="22.98" lengthAdjust="spacingAndGlyphs">th</text>
</g>
<g id="panel-d">
<path d="M1360.25,805.4V1439M1567.8,805.4V1439M1775.35,805.4V1439M1152.7,1386.8H1982.9M1152.7,1281.04H1982.9M1152.7,1175.28H1982.9M1152.7,1069.52H1982.9M1152.7,963.76H1982.9M1152.7,858H1982.9" stroke="#dcdcdc" stroke-width="1.6" fill="none"/>
<path d="M1360.25,805.4v8.5M1360.25,1439v-8.5M1567.8,805.4v8.5M1567.8,1439v-8.5M1775.35,805.4v8.5M1775.35,1439v-8.5M1152.7,1386.8h8.5M1982.9,1386.8h-8.5M1152.7,1281.04h8.5M1982.9,1281.04h-8.5M1152.7,1175.28h8.5M1982.9,1175.28h-8.5M1152.7,1069.52h8.5M1982.9,1069.52h-8.5M1152.7,963.76h8.5M1982.9,963.76h-8.5M1152.7,858h8.5M1982.9,858h-8.5" stroke="#777777" stroke-width="1.8" fill="none"/>
<rect x="1154.8" y="883.3" width="293.2" height="261.1" fill="#fff"/><path d="M1312.77,903.8V1083.1M1406.43,903.8V1083.1M1219.1,993.45H1443.9" stroke="#ebebeb" stroke-width="1.2" fill="none"/><path d="M1312.77,1083.1v-3.5M1312.77,903.8v3.5M1406.43,1083.1v-3.5M1406.43,903.8v3.5M1219.1,993.45h3.5M1443.9,993.45h-3.5" stroke="#a4a4a4" stroke-width="1.2" fill="none"/><rect x="1219.1" y="903.8" width="224.8" height="179.3" fill="none" stroke="#a4a4a4" stroke-width="1.6"/><path d="M1237.9,934.6V957.4M1233.5,934.6h8.8M1233.5,957.4h8.8M1275.7,966.2V993.2M1271.3,966.2h8.8M1271.3,993.2h8.8M1313.2,979.6V1012M1308.8,979.6h8.8M1308.8,1012h8.8M1350.3,986.6V1022.9M1345.9,986.6h8.8M1345.9,1022.9h8.8M1388.1,994.9V1022M1383.7,994.9h8.8M1383.7,1022h8.8M1425.9,998.2V1034M1421.5,998.2h8.8M1421.5,1034h8.8" stroke="#101010" stroke-width="2.2" fill="none"/><circle cx="1237.9" cy="946.3" r="7.3" fill="none" stroke="#101010" stroke-width="2.2"/><circle cx="1275.7" cy="979.9" r="7.3" fill="none" stroke="#101010" stroke-width="2.2"/><circle cx="1313.2" cy="995.7" r="7.3" fill="none" stroke="#101010" stroke-width="2.2"/><circle cx="1350.3" cy="1004.9" r="7.3" fill="none" stroke="#101010" stroke-width="2.2"/><circle cx="1388.1" cy="1008.5" r="7.3" fill="none" stroke="#101010" stroke-width="2.2"/><circle cx="1425.9" cy="1016.5" r="7.3" fill="none" stroke="#101010" stroke-width="2.2"/><text x="1219.1" y="1111.8" text-anchor="middle" class="s" font-size="21.4" fill="#303030">0</text><text x="1312.77" y="1111.8" text-anchor="middle" class="s" font-size="21.4" fill="#303030">5</text><text x="1406.43" y="1111.8" text-anchor="middle" class="s" font-size="21.4" fill="#303030">10</text><text x="1211.6" y="1093.2" text-anchor="end" class="s" font-size="21.4" fill="#303030">0</text><text x="1211.6" y="1003.55" text-anchor="end" class="s" font-size="21.4" fill="#303030">10</text><text x="1211.6" y="912.9" text-anchor="end" class="s" font-size="21.4" fill="#303030">20</text><text x="1239.03" y="1139.7" class="s" font-size="24.2" fill="#303030" textLength="185.26" lengthAdjust="spacingAndGlyphs">harmonic number</text><text transform="translate(1179.6,1057.6) rotate(-90)" class="s" font-size="24.2" fill="#303030" textLength="127.71" lengthAdjust="spacingAndGlyphs">FWHM [mT]</text>
<g fill="none" stroke-width="2.5" stroke-linejoin="round" stroke-linecap="butt" clip-path="url(#clip-d)">
<path d="M1152.5,1378.8 L1154.5,1378.6 L1156.5,1378.4 L1158.5,1378.3 L1160.5,1378.1 L1162.5,1377.9 L1164.5,1377.8 L1166.5,1377.6 L1168.5,1377.4 L1170.5,1377.3 L1172.5,1377.1 L1174.5,1377.0 L1176.5,1376.8 L1178.5,1376.7 L1180.5,1376.5 L1182.5,1376.4 L1184.5,1376.3 L1186.5,1376.1 L1188.5,1376.0 L1190.5,1375.8 L1192.5,1375.7 L1194.5,1375.6 L1196.5,1375.4 L1198.5,1375.3 L1200.5,1375.1 L1202.5,1375.0 L1204.5,1374.8 L1206.5,1374.7 L1208.5,1374.5 L1210.5,1374.4 L1212.5,1374.2 L1214.5,1374.1 L1216.5,1373.9 L1218.5,1373.7 L1220.5,1373.6 L1222.5,1373.4 L1224.5,1373.2 L1226.5,1373.0 L1228.5,1372.8 L1230.5,1372.6 L1232.5,1372.4 L1234.5,1372.2 L1236.5,1372.0 L1238.5,1371.8 L1240.5,1371.5 L1242.5,1371.3 L1244.5,1371.1 L1246.5,1370.8 L1248.5,1370.6 L1250.5,1370.4 L1252.5,1370.1 L1254.5,1369.9 L1256.5,1369.6 L1258.5,1369.3 L1260.5,1369.1 L1262.5,1368.8 L1264.5,1368.5 L1266.5,1368.2 L1268.5,1367.9 L1270.5,1367.7 L1272.5,1367.3 L1274.5,1367.0 L1276.5,1366.7 L1278.5,1366.4 L1280.5,1366.1 L1282.5,1365.8 L1284.5,1365.5 L1286.5,1365.1 L1288.5,1364.8 L1290.5,1364.4 L1292.5,1364.1 L1294.5,1363.7 L1296.5,1363.3 L1298.5,1363.0 L1300.5,1362.6 L1302.5,1362.2 L1304.5,1361.8 L1306.5,1361.4 L1308.5,1361.0 L1310.5,1360.5 L1312.5,1360.1 L1314.5,1359.7 L1316.5,1359.2 L1318.5,1358.7 L1320.5,1358.3 L1322.5,1357.8 L1324.5,1357.3 L1326.5,1356.8 L1328.5,1356.3 L1330.5,1355.7 L1332.5,1355.2 L1334.5,1354.6 L1336.5,1354.1 L1338.5,1353.5 L1340.5,1352.8 L1342.5,1352.2 L1344.5,1351.6 L1346.5,1350.9 L1348.5,1350.2 L1350.5,1349.5 L1352.5,1348.8 L1354.5,1348.0 L1356.5,1347.2 L1358.5,1346.4 L1360.5,1345.6 L1362.5,1344.7 L1364.5,1343.8 L1366.5,1342.8 L1368.5,1341.8 L1370.5,1340.8 L1372.5,1339.7 L1374.5,1338.5 L1376.5,1337.3 L1378.5,1336.1 L1380.5,1334.8 L1382.5,1333.3 L1384.5,1331.9 L1386.5,1330.3 L1388.5,1328.7 L1390.5,1326.9 L1392.5,1325.1 L1394.5,1323.2 L1396.5,1321.1 L1398.5,1319.0 L1400.5,1316.7 L1402.5,1314.3 L1404.5,1311.8 L1406.5,1309.2 L1408.5,1306.4 L1410.5,1303.4 L1412.5,1300.3 L1414.5,1297.1 L1416.5,1293.7 L1418.5,1290.1 L1420.5,1286.4 L1422.5,1282.5 L1424.5,1278.4 L1426.5,1274.1 L1428.5,1269.6 L1430.5,1264.9 L1432.5,1260.1 L1434.5,1255.0 L1436.5,1249.7 L1438.5,1244.2 L1440.5,1238.5 L1442.5,1232.6 L1444.5,1226.5 L1446.5,1220.2 L1448.5,1213.7 L1450.5,1207.1 L1452.5,1200.2 L1454.5,1193.1 L1456.5,1185.9 L1458.5,1178.5 L1460.5,1170.9 L1462.5,1163.1 L1464.5,1155.2 L1466.5,1147.2 L1468.5,1139.1 L1470.5,1130.8 L1472.5,1122.4 L1474.5,1113.9 L1476.5,1105.4 L1478.5,1096.8 L1480.5,1088.1 L1482.5,1079.5 L1484.5,1070.8 L1486.5,1062.0 L1488.5,1053.4 L1490.5,1044.7 L1492.5,1036.1 L1494.5,1027.6 L1496.5,1019.2 L1498.5,1010.8 L1500.5,1002.6 L1502.5,994.5 L1504.5,986.6 L1506.5,978.9 L1508.5,971.3 L1510.5,963.9 L1512.5,956.7 L1514.5,949.7 L1516.5,943.0 L1518.5,936.4 L1520.5,930.1 L1522.5,924.1 L1524.5,918.3 L1526.5,912.7 L1528.5,907.4 L1530.5,902.4 L1532.5,897.6 L1534.5,893.1 L1536.5,888.9 L1538.5,885.0 L1540.5,881.3 L1542.5,877.9 L1544.5,874.7 L1546.5,871.9 L1548.5,869.2 L1550.5,866.9 L1552.5,864.9 L1554.5,863.0 L1556.5,861.5 L1558.5,860.2 L1560.5,859.2 L1562.5,858.5 L1564.5,858.0 L1566.5,857.7 L1568.5,857.8 L1570.5,858.0 L1572.5,858.5 L1574.5,859.3 L1576.5,860.4 L1578.5,861.6 L1580.5,863.2 L1582.5,865.0 L1584.5,867.0 L1586.5,869.3 L1588.5,871.9 L1590.5,874.7 L1592.5,877.8 L1594.5,881.1 L1596.5,884.7 L1598.5,888.6 L1600.5,892.7 L1602.5,897.1 L1604.5,901.8 L1606.5,906.7 L1608.5,911.9 L1610.5,917.4 L1612.5,923.0 L1614.5,929.0 L1616.5,935.2 L1618.5,941.6 L1620.5,948.2 L1622.5,955.1 L1624.5,962.1 L1626.5,969.4 L1628.5,976.9 L1630.5,984.5 L1632.5,992.3 L1634.5,1000.2 L1636.5,1008.3 L1638.5,1016.5 L1640.5,1024.8 L1642.5,1033.2 L1644.5,1041.7 L1646.5,1050.2 L1648.5,1058.8 L1650.5,1067.4 L1652.5,1076.0 L1654.5,1084.6 L1656.5,1093.1 L1658.5,1101.7 L1660.5,1110.1 L1662.5,1118.5 L1664.5,1126.8 L1666.5,1135.1 L1668.5,1143.2 L1670.5,1151.2 L1672.5,1159.0 L1674.5,1166.7 L1676.5,1174.3 L1678.5,1181.7 L1680.5,1188.9 L1682.5,1196.0 L1684.5,1202.9 L1686.5,1209.6 L1688.5,1216.1 L1690.5,1222.5 L1692.5,1228.6 L1694.5,1234.6 L1696.5,1240.3 L1698.5,1245.9 L1700.5,1251.3 L1702.5,1256.5 L1704.5,1261.5 L1706.5,1266.3 L1708.5,1271.0 L1710.5,1275.4 L1712.5,1279.7 L1714.5,1283.8 L1716.5,1287.7 L1718.5,1291.5 L1720.5,1295.0 L1722.5,1298.5 L1724.5,1301.8 L1726.5,1304.9 L1728.5,1307.9 L1730.5,1310.8 L1732.5,1313.5 L1734.5,1316.1 L1736.5,1318.5 L1738.5,1320.9 L1740.5,1323.1 L1742.5,1325.3 L1744.5,1327.3 L1746.5,1329.2 L1748.5,1331.1 L1750.5,1332.8 L1752.5,1334.5 L1754.5,1336.1 L1756.5,1337.6 L1758.5,1339.0 L1760.5,1340.4 L1762.5,1341.7 L1764.5,1342.9 L1766.5,1344.1 L1768.5,1345.3 L1770.5,1346.3 L1772.5,1347.4 L1774.5,1348.4 L1776.5,1349.3 L1778.5,1350.2 L1780.5,1351.1 L1782.5,1351.9 L1784.5,1352.8 L1786.5,1353.5 L1788.5,1354.3 L1790.5,1355.0 L1792.5,1355.7 L1794.5,1356.4 L1796.5,1357.1 L1798.5,1357.7 L1800.5,1358.4 L1802.5,1359.0 L1804.5,1359.6 L1806.5,1360.1 L1808.5,1360.7 L1810.5,1361.2 L1812.5,1361.8 L1814.5,1362.3 L1816.5,1362.8 L1818.5,1363.2 L1820.5,1363.7 L1822.5,1364.2 L1824.5,1364.6 L1826.5,1365.0 L1828.5,1365.5 L1830.5,1365.9 L1832.5,1366.3 L1834.5,1366.7 L1836.5,1367.1 L1838.5,1367.5 L1840.5,1367.8 L1842.5,1368.2 L1844.5,1368.5 L1846.5,1368.8 L1848.5,1369.2 L1850.5,1369.5 L1852.5,1369.8 L1854.5,1370.1 L1856.5,1370.4 L1858.5,1370.7 L1860.5,1371.0 L1862.5,1371.2 L1864.5,1371.5 L1866.5,1371.7 L1868.5,1372.0 L1870.5,1372.2 L1872.5,1372.5 L1874.5,1372.7 L1876.5,1372.9 L1878.5,1373.1 L1880.5,1373.3 L1882.5,1373.5 L1884.5,1373.7 L1886.5,1373.9 L1888.5,1374.1 L1890.5,1374.3 L1892.5,1374.5 L1894.5,1374.6 L1896.5,1374.8 L1898.5,1375.0 L1900.5,1375.1 L1902.5,1375.3 L1904.5,1375.4 L1906.5,1375.6 L1908.5,1375.7 L1910.5,1375.9 L1912.5,1376.0 L1914.5,1376.1 L1916.5,1376.2 L1918.5,1376.4 L1920.5,1376.5 L1922.5,1376.6 L1924.5,1376.7 L1926.5,1376.8 L1928.5,1376.9 L1930.5,1377.0 L1932.5,1377.1 L1934.5,1377.2 L1936.5,1377.3 L1938.5,1377.4 L1940.5,1377.5 L1942.5,1377.6 L1944.5,1377.7 L1946.5,1377.7 L1948.5,1377.8 L1950.5,1377.9 L1952.5,1378.0 L1954.5,1378.0 L1956.5,1378.1 L1958.5,1378.2 L1960.5,1378.2 L1962.5,1378.3 L1964.5,1378.4 L1966.5,1378.5 L1968.5,1378.5 L1970.5,1378.6 L1972.5,1378.7 L1974.5,1378.7 L1976.5,1378.8 L1978.5,1378.8 L1980.5,1378.9 L1982.5,1379.0 L1982.9,1379.0" stroke="#000000"/>
<path d="M1152.5,1386.3 L1227.7,1385.1 L1265.3,1383.8 L1302.9,1381.3 L1328.0,1378.4 L1346.8,1374.7 L1359.0,1370.9 L1371.0,1367.8 L1378.0,1363.5 L1388.0,1356.0 L1398.0,1346.0 L1408.0,1332.3 L1418.0,1314.8 L1428.1,1292.2 L1438.1,1267.2 L1445.6,1247.2 L1453.1,1227.2 L1459.3,1212.2 L1464.3,1202.1 L1470.6,1197.1 L1479.4,1205.9 L1484.4,1224.7 L1488.1,1242.2 L1491.9,1262.2 L1495.6,1284.7 L1499.4,1312.2 L1503.1,1334.8 L1505.1,1346.0 L1510.6,1349.3 L1513.7,1349.3 L1515.7,1332.3 L1519.4,1299.7 L1523.2,1257.2 L1526.9,1212.2 L1530.7,1169.6 L1534.4,1129.6 L1543.9,1058.2 L1547.7,1031.9 L1551.4,1010.7 L1555.2,989.4 L1560.2,975.6 L1564.7,964.4 L1571.2,964.4 L1576.2,976.4 L1580.7,988.9 L1584.7,1010.2 L1588.5,1031.4 L1592.2,1057.7 L1599.2,1132.1 L1603.2,1169.6 L1607.0,1212.2 L1610.7,1254.7 L1614.5,1294.7 L1618.2,1327.3 L1621.2,1347.3 L1623.8,1349.8 L1630.0,1344.8 L1632.0,1334.8 L1635.8,1307.2 L1639.5,1279.7 L1643.3,1252.2 L1647.0,1229.7 L1652.0,1209.7 L1657.0,1199.6 L1664.5,1193.4 L1673.3,1200.9 L1678.3,1214.7 L1683.3,1229.7 L1690.8,1252.2 L1698.3,1272.2 L1705.8,1289.7 L1713.3,1306.0 L1720.8,1319.8 L1728.4,1332.3 L1738.4,1346.0 L1748.4,1357.3 L1758.4,1364.8 L1768.4,1371.1 L1780.9,1376.1 L1793.4,1379.3 L1808.4,1381.8 L1826.0,1383.6 L1843.5,1384.8 L1868.5,1385.8 L1885.2,1385.2 L1925.0,1385.6 L1982.9,1386.0" stroke="#ff0000"/>
<path d="M1152.7,1387.0 L1300.0,1386.5 L1353.0,1384.1 L1371.0,1383.1 L1378.0,1379.8 L1388.0,1376.1 L1398.0,1372.3 L1408.0,1368.6 L1418.0,1363.5 L1425.6,1359.8 L1431.8,1359.3 L1438.1,1361.0 L1444.3,1367.3 L1449.3,1376.1 L1454.3,1384.3 L1459.3,1374.8 L1464.3,1352.3 L1468.1,1329.8 L1471.8,1307.2 L1475.6,1282.2 L1479.4,1259.7 L1483.1,1237.2 L1486.9,1222.2 L1490.6,1209.7 L1496.1,1193.4 L1504.4,1187.1 L1509.4,1202.1 L1514.4,1214.7 L1518.2,1242.2 L1521.2,1274.7 L1524.4,1307.2 L1526.9,1334.8 L1529.4,1361.0 L1530.7,1349.8 L1532.7,1361.0 L1534.4,1337.3 L1538.2,1299.7 L1541.9,1252.2 L1545.7,1202.1 L1549.4,1154.6 L1554.4,1112.0 L1559.4,1089.5 L1563.7,1070.0 L1572.7,1070.0 L1577.0,1089.5 L1581.2,1112.0 L1584.5,1142.1 L1587.7,1172.1 L1590.7,1204.6 L1593.2,1237.2 L1596.2,1272.2 L1599.5,1307.2 L1602.7,1339.8 L1605.2,1366.0 L1606.5,1357.3 L1608.2,1337.3 L1611.2,1307.2 L1614.5,1277.2 L1618.2,1244.7 L1622.0,1214.7 L1627.0,1197.1 L1632.0,1184.6 L1639.5,1187.1 L1643.3,1204.6 L1647.0,1224.7 L1650.8,1247.2 L1655.8,1277.2 L1660.8,1307.2 L1665.8,1334.8 L1669.5,1354.8 L1673.3,1367.3 L1680.8,1380.3 L1685.8,1371.1 L1690.8,1363.5 L1698.3,1358.5 L1705.8,1358.5 L1713.3,1362.3 L1723.3,1368.6 L1733.4,1373.6 L1743.4,1377.3 L1755.9,1381.1 L1768.4,1383.6 L1783.4,1385.3 L1803.4,1386.3 L1868.5,1386.8 L1982.9,1387.0" stroke="#0000ff"/>
<path d="M1152.7,1387.0 L1368.0,1386.8 L1393.0,1385.3 L1403.0,1383.6 L1413.0,1386.1 L1425.6,1382.3 L1435.6,1376.8 L1443.1,1374.8 L1448.1,1368.6 L1453.1,1357.3 L1458.1,1347.3 L1464.3,1339.3 L1469.3,1338.5 L1474.4,1344.8 L1479.4,1357.3 L1483.1,1369.8 L1486.1,1382.3 L1488.1,1386.8 L1490.6,1374.8 L1494.4,1344.8 L1498.1,1312.2 L1503.1,1279.7 L1508.1,1257.2 L1513.1,1242.2 L1518.2,1235.9 L1521.2,1233.4 L1524.4,1242.2 L1530.7,1262.2 L1533.2,1287.2 L1536.2,1317.2 L1538.9,1347.3 L1540.7,1337.3 L1544.4,1322.3 L1548.2,1302.2 L1551.9,1274.7 L1555.7,1237.2 L1559.4,1202.1 L1563.7,1175.9 L1572.7,1175.9 L1577.0,1202.1 L1580.7,1232.2 L1583.7,1257.2 L1587.0,1282.2 L1590.2,1307.2 L1593.2,1329.8 L1596.2,1347.3 L1598.2,1352.3 L1600.7,1332.3 L1603.2,1299.7 L1605.7,1272.2 L1609.5,1247.2 L1614.5,1231.7 L1622.0,1238.4 L1625.8,1257.2 L1629.5,1279.7 L1633.3,1302.2 L1637.0,1327.3 L1640.8,1352.3 L1644.5,1374.8 L1647.8,1386.8 L1650.8,1372.3 L1655.8,1357.3 L1660.8,1344.8 L1665.8,1339.3 L1672.0,1342.3 L1678.3,1352.3 L1684.6,1362.3 L1692.1,1373.6 L1699.6,1380.3 L1707.1,1383.6 L1718.3,1384.8 L1728.4,1382.8 L1738.4,1385.3 L1868.5,1386.8 L1982.9,1387.0" stroke="#ff00ff"/>
<path d="M1152.7,1387.0 L1368.0,1386.8 L1418.0,1386.3 L1433.1,1382.3 L1443.1,1381.8 L1450.6,1383.6 L1458.1,1381.1 L1465.6,1374.8 L1473.1,1364.8 L1480.6,1353.5 L1488.1,1346.0 L1494.4,1352.3 L1498.1,1362.3 L1501.9,1374.8 L1504.9,1383.6 L1508.1,1367.3 L1511.9,1344.8 L1515.7,1327.3 L1519.4,1314.8 L1523.2,1302.2 L1526.9,1287.2 L1530.2,1278.5 L1533.2,1292.2 L1536.2,1309.8 L1539.4,1327.3 L1543.2,1349.8 L1546.4,1377.3 L1549.4,1362.3 L1553.2,1337.3 L1556.9,1312.2 L1560.7,1287.2 L1563.7,1266.0 L1572.7,1266.0 L1575.7,1287.2 L1579.5,1312.2 L1583.2,1339.8 L1587.0,1369.8 L1590.2,1362.3 L1593.2,1347.3 L1597.0,1322.3 L1600.7,1302.2 L1605.2,1286.7 L1609.5,1297.2 L1613.2,1309.8 L1618.2,1324.8 L1623.2,1344.8 L1628.3,1367.3 L1630.8,1376.8 L1634.5,1362.3 L1639.5,1347.3 L1644.5,1349.8 L1650.8,1354.8 L1657.0,1361.0 L1663.3,1372.3 L1668.3,1379.8 L1673.3,1386.8 L1680.8,1382.3 L1690.8,1381.8 L1700.8,1384.3 L1713.3,1386.3 L1868.5,1387.1 L1982.9,1387.2" stroke="#00ffff"/>
<path d="M1152.7,1387.0 L1368.0,1386.8 L1383.0,1385.8 L1400.5,1384.8 L1413.0,1387.3 L1423.0,1383.6 L1433.1,1378.6 L1443.1,1376.1 L1448.1,1379.8 L1455.6,1382.3 L1468.1,1381.8 L1478.1,1382.8 L1485.6,1381.1 L1490.6,1367.3 L1495.6,1357.3 L1503.1,1359.8 L1506.9,1372.3 L1513.1,1382.3 L1521.2,1374.8 L1524.4,1357.3 L1528.2,1339.8 L1531.9,1334.8 L1538.2,1338.5 L1541.9,1357.3 L1546.4,1376.8 L1554.4,1368.6 L1558.2,1352.3 L1561.9,1337.3 L1567.0,1334.3 L1572.7,1336.0 L1575.7,1352.3 L1579.5,1370.3 L1588.2,1372.8 L1592.0,1359.8 L1595.7,1344.8 L1602.0,1341.0 L1607.0,1344.8 L1609.5,1354.8 L1613.2,1366.0 L1619.5,1373.6 L1630.3,1379.3 L1634.5,1369.8 L1639.5,1354.8 L1643.3,1369.8 L1647.8,1379.8 L1655.8,1384.3 L1665.8,1381.8 L1675.8,1382.8 L1688.3,1386.3 L1703.3,1386.8 L1868.5,1387.3 L1982.9,1387.4" stroke="#00ff00"/>
</g>
<rect x="1152.7" y="805.4" width="830.2" height="633.6" fill="none" stroke="#777777" stroke-width="2.0"/>
<text x="1403.74" y="794.5" class="t" font-size="41.6" fill="#000" textLength="133.12" lengthAdjust="spacingAndGlyphs">Lock-in</text><text x="1547.55" y="794.5" class="t" font-size="41.6" fill="#000" textLength="201.33" lengthAdjust="spacingAndGlyphs">(simulation)</text><text x="1162.22" y="863.6" class="t" font-size="62.6" fill="#000" textLength="74.72" lengthAdjust="spacingAndGlyphs">(d)</text><text x="1140.5" y="1399.65" text-anchor="end" class="s" font-size="36.5" fill="#262626">0</text><text x="1140.5" y="1293.89" text-anchor="end" class="s" font-size="36.5" fill="#262626">0.2</text><text x="1140.5" y="1188.13" text-anchor="end" class="s" font-size="36.5" fill="#262626">0.4</text><text x="1140.5" y="1082.37" text-anchor="end" class="s" font-size="36.5" fill="#262626">0.6</text><text x="1140.5" y="976.61" text-anchor="end" class="s" font-size="36.5" fill="#262626">0.8</text><text x="1140.5" y="870.85" text-anchor="end" class="s" font-size="36.5" fill="#262626">1</text><text transform="translate(1072,1263.6) rotate(-90)" class="s" font-size="39.6" fill="#262626" textLength="284.57" lengthAdjust="spacingAndGlyphs">amplitude [A.U.]</text><text x="1151.2" y="1490.9" text-anchor="middle" class="s" font-size="36.5" fill="#262626">-40</text><text x="1358.75" y="1490.9" text-anchor="middle" class="s" font-size="36.5" fill="#262626">-20</text><text x="1567.8" y="1490.9" text-anchor="middle" class="s" font-size="36.5" fill="#262626">0</text><text x="1775.35" y="1490.9" text-anchor="middle" class="s" font-size="36.5" fill="#262626">20</text><text x="1982.9" y="1490.9" text-anchor="middle" class="s" font-size="36.5" fill="#262626">40</text><text x="1401.23" y="1541.1" class="s" font-size="39.6" fill="#262626" textLength="333.73" lengthAdjust="spacingAndGlyphs">magnetic field [mT]</text>
</g></svg>
</body></html>
